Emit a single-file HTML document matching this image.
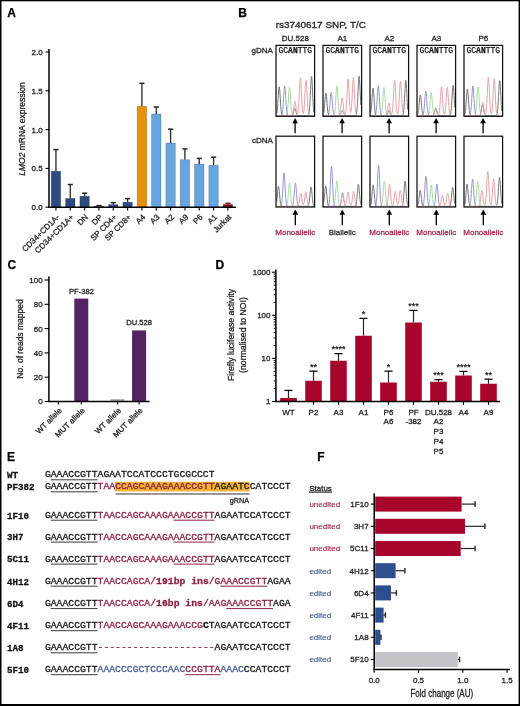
<!DOCTYPE html>
<html><head><meta charset="utf-8"><title>Figure</title>
<style>html,body{margin:0;padding:0;background:#fff;}body{width:520px;height:706px;overflow:hidden;font-family:"Liberation Sans",sans-serif;}svg{display:block;will-change:transform;}</style>
</head><body>
<svg width="520" height="706" viewBox="0 0 520 706"><text x="7.30" y="16.70" font-size="12" text-anchor="start" fill="#000" font-weight="bold" font-family="'Liberation Sans',sans-serif" stroke="#000" stroke-width="0.25"  >A</text>
<text x="238.20" y="16.80" font-size="12" text-anchor="start" fill="#000" font-weight="bold" font-family="'Liberation Sans',sans-serif" stroke="#000" stroke-width="0.25"  >B</text>
<text x="7.40" y="269.10" font-size="12" text-anchor="start" fill="#000" font-weight="bold" font-family="'Liberation Sans',sans-serif" stroke="#000" stroke-width="0.25"  >C</text>
<text x="215.60" y="269.10" font-size="12" text-anchor="start" fill="#000" font-weight="bold" font-family="'Liberation Sans',sans-serif" stroke="#000" stroke-width="0.25"  >D</text>
<text x="6.90" y="461.10" font-size="12" text-anchor="start" fill="#000" font-weight="bold" font-family="'Liberation Sans',sans-serif" stroke="#000" stroke-width="0.25"  >E</text>
<text x="317.20" y="461.10" font-size="12" text-anchor="start" fill="#000" font-weight="bold" font-family="'Liberation Sans',sans-serif" stroke="#000" stroke-width="0.25"  >F</text>
<line x1="45.50" y1="207.20" x2="49.00" y2="207.20" stroke="#000" stroke-width="1.1"/>
<text x="42.70" y="210.10" font-size="8.0" text-anchor="end" fill="#222" font-weight="normal" font-family="'Liberation Sans',sans-serif" stroke="#222" stroke-width="0.28"  >0.0</text>
<line x1="45.50" y1="168.40" x2="49.00" y2="168.40" stroke="#000" stroke-width="1.1"/>
<text x="42.70" y="171.30" font-size="8.0" text-anchor="end" fill="#222" font-weight="normal" font-family="'Liberation Sans',sans-serif" stroke="#222" stroke-width="0.28"  >0.5</text>
<line x1="45.50" y1="129.60" x2="49.00" y2="129.60" stroke="#000" stroke-width="1.1"/>
<text x="42.70" y="132.50" font-size="8.0" text-anchor="end" fill="#222" font-weight="normal" font-family="'Liberation Sans',sans-serif" stroke="#222" stroke-width="0.28"  >1.0</text>
<line x1="45.50" y1="90.80" x2="49.00" y2="90.80" stroke="#000" stroke-width="1.1"/>
<text x="42.70" y="93.70" font-size="8.0" text-anchor="end" fill="#222" font-weight="normal" font-family="'Liberation Sans',sans-serif" stroke="#222" stroke-width="0.28"  >1.5</text>
<line x1="45.50" y1="52.00" x2="49.00" y2="52.00" stroke="#000" stroke-width="1.1"/>
<text x="42.70" y="54.90" font-size="8.0" text-anchor="end" fill="#222" font-weight="normal" font-family="'Liberation Sans',sans-serif" stroke="#222" stroke-width="0.28"  >2.0</text>
<line x1="55.95" y1="149.60" x2="55.95" y2="171.20" stroke="#262626" stroke-width="1.3"/>
<line x1="53.35" y1="149.60" x2="58.55" y2="149.60" stroke="#262626" stroke-width="1.5"/>
<rect x="51.20" y="171.20" width="9.50" height="36.00" fill="#2d4b80" stroke="#000" stroke-opacity="0.22" stroke-width="0.8"/>
<line x1="55.95" y1="207.20" x2="55.95" y2="210.50" stroke="#000" stroke-width="1.1"/>
<text transform="translate(59.95,217.60) rotate(-45)" font-size="8.0" text-anchor="end" fill="#222" stroke="#222" stroke-width="0.28" font-family="'Liberation Sans',sans-serif" >CD34+CD1A-</text>
<line x1="70.28" y1="184.50" x2="70.28" y2="198.40" stroke="#262626" stroke-width="1.3"/>
<line x1="67.68" y1="184.50" x2="72.88" y2="184.50" stroke="#262626" stroke-width="1.5"/>
<rect x="65.53" y="198.40" width="9.50" height="8.80" fill="#2d4b80" stroke="#000" stroke-opacity="0.22" stroke-width="0.8"/>
<line x1="70.28" y1="207.20" x2="70.28" y2="210.50" stroke="#000" stroke-width="1.1"/>
<text transform="translate(74.28,217.60) rotate(-45)" font-size="8.0" text-anchor="end" fill="#222" stroke="#222" stroke-width="0.28" font-family="'Liberation Sans',sans-serif" >CD34+CD1A+</text>
<line x1="84.61" y1="193.20" x2="84.61" y2="196.20" stroke="#262626" stroke-width="1.3"/>
<line x1="82.01" y1="193.20" x2="87.21" y2="193.20" stroke="#262626" stroke-width="1.5"/>
<rect x="79.86" y="196.20" width="9.50" height="11.00" fill="#2d4b80" stroke="#000" stroke-opacity="0.22" stroke-width="0.8"/>
<line x1="84.61" y1="207.20" x2="84.61" y2="210.50" stroke="#000" stroke-width="1.1"/>
<text transform="translate(88.61,217.60) rotate(-45)" font-size="8.0" text-anchor="end" fill="#222" stroke="#222" stroke-width="0.28" font-family="'Liberation Sans',sans-serif" >DN</text>
<line x1="98.94" y1="205.60" x2="98.94" y2="206.20" stroke="#262626" stroke-width="1.3"/>
<line x1="96.34" y1="205.60" x2="101.54" y2="205.60" stroke="#262626" stroke-width="1.5"/>
<rect x="94.19" y="206.20" width="9.50" height="1.00" fill="#2d4b80" stroke="#000" stroke-opacity="0.22" stroke-width="0.8"/>
<line x1="98.94" y1="207.20" x2="98.94" y2="210.50" stroke="#000" stroke-width="1.1"/>
<text transform="translate(102.94,217.60) rotate(-45)" font-size="8.0" text-anchor="end" fill="#222" stroke="#222" stroke-width="0.28" font-family="'Liberation Sans',sans-serif" >DP</text>
<line x1="113.27" y1="202.60" x2="113.27" y2="204.60" stroke="#262626" stroke-width="1.3"/>
<line x1="110.67" y1="202.60" x2="115.87" y2="202.60" stroke="#262626" stroke-width="1.5"/>
<rect x="108.52" y="204.60" width="9.50" height="2.60" fill="#2d4b80" stroke="#000" stroke-opacity="0.22" stroke-width="0.8"/>
<line x1="113.27" y1="207.20" x2="113.27" y2="210.50" stroke="#000" stroke-width="1.1"/>
<text transform="translate(117.27,217.60) rotate(-45)" font-size="8.0" text-anchor="end" fill="#222" stroke="#222" stroke-width="0.28" font-family="'Liberation Sans',sans-serif" >SP CD4+</text>
<line x1="127.60" y1="198.60" x2="127.60" y2="202.20" stroke="#262626" stroke-width="1.3"/>
<line x1="125.00" y1="198.60" x2="130.20" y2="198.60" stroke="#262626" stroke-width="1.5"/>
<rect x="122.85" y="202.20" width="9.50" height="5.00" fill="#2d4b80" stroke="#000" stroke-opacity="0.22" stroke-width="0.8"/>
<line x1="127.60" y1="207.20" x2="127.60" y2="210.50" stroke="#000" stroke-width="1.1"/>
<text transform="translate(131.60,217.60) rotate(-45)" font-size="8.0" text-anchor="end" fill="#222" stroke="#222" stroke-width="0.28" font-family="'Liberation Sans',sans-serif" >SP CD8+</text>
<line x1="141.93" y1="83.30" x2="141.93" y2="106.40" stroke="#262626" stroke-width="1.3"/>
<line x1="139.33" y1="83.30" x2="144.53" y2="83.30" stroke="#262626" stroke-width="1.5"/>
<rect x="137.18" y="106.40" width="9.50" height="100.80" fill="#e6900c" stroke="#000" stroke-opacity="0.22" stroke-width="0.8"/>
<line x1="141.93" y1="207.20" x2="141.93" y2="210.50" stroke="#000" stroke-width="1.1"/>
<text transform="translate(145.93,217.60) rotate(-45)" font-size="8.0" text-anchor="end" fill="#222" stroke="#222" stroke-width="0.28" font-family="'Liberation Sans',sans-serif" >A4</text>
<line x1="156.26" y1="107.00" x2="156.26" y2="114.00" stroke="#262626" stroke-width="1.3"/>
<line x1="153.66" y1="107.00" x2="158.86" y2="107.00" stroke="#262626" stroke-width="1.5"/>
<rect x="151.51" y="114.00" width="9.50" height="93.20" fill="#68a4e0" stroke="#000" stroke-opacity="0.22" stroke-width="0.8"/>
<line x1="156.26" y1="207.20" x2="156.26" y2="210.50" stroke="#000" stroke-width="1.1"/>
<text transform="translate(160.26,217.60) rotate(-45)" font-size="8.0" text-anchor="end" fill="#222" stroke="#222" stroke-width="0.28" font-family="'Liberation Sans',sans-serif" >A3</text>
<line x1="170.59" y1="129.20" x2="170.59" y2="143.00" stroke="#262626" stroke-width="1.3"/>
<line x1="167.99" y1="129.20" x2="173.19" y2="129.20" stroke="#262626" stroke-width="1.5"/>
<rect x="165.84" y="143.00" width="9.50" height="64.20" fill="#68a4e0" stroke="#000" stroke-opacity="0.22" stroke-width="0.8"/>
<line x1="170.59" y1="207.20" x2="170.59" y2="210.50" stroke="#000" stroke-width="1.1"/>
<text transform="translate(174.59,217.60) rotate(-45)" font-size="8.0" text-anchor="end" fill="#222" stroke="#222" stroke-width="0.28" font-family="'Liberation Sans',sans-serif" >A2</text>
<line x1="184.92" y1="148.90" x2="184.92" y2="159.70" stroke="#262626" stroke-width="1.3"/>
<line x1="182.32" y1="148.90" x2="187.52" y2="148.90" stroke="#262626" stroke-width="1.5"/>
<rect x="180.17" y="159.70" width="9.50" height="47.50" fill="#68a4e0" stroke="#000" stroke-opacity="0.22" stroke-width="0.8"/>
<line x1="184.92" y1="207.20" x2="184.92" y2="210.50" stroke="#000" stroke-width="1.1"/>
<text transform="translate(188.92,217.60) rotate(-45)" font-size="8.0" text-anchor="end" fill="#222" stroke="#222" stroke-width="0.28" font-family="'Liberation Sans',sans-serif" >A9</text>
<line x1="199.25" y1="158.40" x2="199.25" y2="164.00" stroke="#262626" stroke-width="1.3"/>
<line x1="196.65" y1="158.40" x2="201.85" y2="158.40" stroke="#262626" stroke-width="1.5"/>
<rect x="194.50" y="164.00" width="9.50" height="43.20" fill="#68a4e0" stroke="#000" stroke-opacity="0.22" stroke-width="0.8"/>
<line x1="199.25" y1="207.20" x2="199.25" y2="210.50" stroke="#000" stroke-width="1.1"/>
<text transform="translate(203.25,217.60) rotate(-45)" font-size="8.0" text-anchor="end" fill="#222" stroke="#222" stroke-width="0.28" font-family="'Liberation Sans',sans-serif" >P6</text>
<line x1="213.58" y1="157.20" x2="213.58" y2="165.20" stroke="#262626" stroke-width="1.3"/>
<line x1="210.98" y1="157.20" x2="216.18" y2="157.20" stroke="#262626" stroke-width="1.5"/>
<rect x="208.83" y="165.20" width="9.50" height="42.00" fill="#68a4e0" stroke="#000" stroke-opacity="0.22" stroke-width="0.8"/>
<line x1="213.58" y1="207.20" x2="213.58" y2="210.50" stroke="#000" stroke-width="1.1"/>
<text transform="translate(217.58,217.60) rotate(-45)" font-size="8.0" text-anchor="end" fill="#222" stroke="#222" stroke-width="0.28" font-family="'Liberation Sans',sans-serif" >A1</text>
<line x1="227.91" y1="203.30" x2="227.91" y2="204.40" stroke="#7e1424" stroke-width="1.3"/>
<line x1="225.31" y1="203.30" x2="230.51" y2="203.30" stroke="#7e1424" stroke-width="1.5"/>
<rect x="223.16" y="204.40" width="9.50" height="2.80" fill="#7e1424" stroke="#000" stroke-opacity="0.22" stroke-width="0.8"/>
<line x1="227.91" y1="207.20" x2="227.91" y2="210.50" stroke="#000" stroke-width="1.1"/>
<text transform="translate(231.91,217.60) rotate(-45)" font-size="8.0" text-anchor="end" fill="#222" stroke="#222" stroke-width="0.28" font-family="'Liberation Sans',sans-serif" >Jurkat</text>
<text transform="translate(25.1,129) rotate(-90)" font-size="8.5" text-anchor="middle" fill="#222" stroke="#222" stroke-width="0.28" font-family="'Liberation Sans',sans-serif"><tspan font-style="italic">LMO2</tspan> mRNA expression</text>
<text x="275.70" y="28.00" font-size="9.4" text-anchor="start" fill="#222" font-weight="normal" font-family="'Liberation Sans',sans-serif" stroke="#222" stroke-width="0.28"  textLength="90.2" lengthAdjust="spacingAndGlyphs">rs3740617 SNP, T/C</text>
<text x="251.50" y="52.70" font-size="8" text-anchor="start" fill="#222" font-weight="normal" font-family="'Liberation Sans',sans-serif" stroke="#222" stroke-width="0.28"  >gDNA</text>
<text x="252.00" y="143.30" font-size="8" text-anchor="start" fill="#222" font-weight="normal" font-family="'Liberation Sans',sans-serif" stroke="#222" stroke-width="0.28"  >cDNA</text>
<text x="295.30" y="40.60" font-size="8" text-anchor="middle" fill="#222" font-weight="normal" font-family="'Liberation Sans',sans-serif" stroke="#222" stroke-width="0.28"  >DU.528</text>
<polyline points="276.80,115.60 277.05,115.60 277.30,115.60 277.55,115.60 277.80,115.60 278.05,115.60 278.30,115.60 278.55,115.60 278.80,115.60 279.05,115.60 279.30,115.60 279.55,115.60 279.80,115.60 280.05,115.60 280.30,115.60 280.55,115.60 280.80,115.60 281.05,115.60 281.30,115.60 281.55,115.60 281.80,115.60 282.05,115.60 282.30,115.60 282.55,115.60 282.80,115.60 283.05,115.60 283.30,115.60 283.55,115.60 283.80,115.60 284.05,115.60 284.30,115.60 284.55,115.60 284.80,115.60 285.05,115.60 285.30,115.59 285.55,115.58 285.80,115.54 286.05,115.47 286.30,115.33 286.55,115.06 286.80,114.57 287.05,113.75 287.30,112.47 287.55,110.59 287.80,108.02 288.05,104.77 288.30,100.98 288.55,96.94 288.80,93.10 289.05,89.97 289.30,88.01 289.55,87.53 289.80,88.62 290.05,91.10 290.30,94.58 290.55,98.56 290.80,102.54 291.05,106.15 291.30,109.14 291.55,111.42 291.80,113.05 292.05,114.13 292.30,114.80 292.55,115.19 292.80,115.40 293.05,115.51 293.30,115.56 293.55,115.58 293.80,115.59 294.05,115.60 294.30,115.60 294.55,115.60 294.80,115.60 295.05,115.60 295.30,115.60 295.55,115.60 295.80,115.60 296.05,115.60 296.30,115.60 296.55,115.60 296.80,115.60 297.05,115.60 297.30,115.60 297.55,115.60 297.80,115.60 298.05,115.60 298.30,115.60 298.55,115.60 298.80,115.60 299.05,115.60 299.30,115.60 299.55,115.60 299.80,115.60 300.05,115.60 300.30,115.60 300.55,115.60 300.80,115.60 301.05,115.60 301.30,115.60 301.55,115.60 301.80,115.60 302.05,115.60 302.30,115.60 302.55,115.60 302.80,115.60 303.05,115.60 303.30,115.60 303.55,115.60 303.80,115.60 304.05,115.60 304.30,115.60 304.55,115.60 304.80,115.60 305.05,115.60 305.30,115.60 305.55,115.60 305.80,115.60 306.05,115.60 306.30,115.60 306.55,115.60 306.80,115.60 307.05,115.60 307.30,115.60 307.55,115.60 307.80,115.60 308.05,115.60 308.30,115.60 308.55,115.60 308.80,115.60 309.05,115.60 309.30,115.60 309.55,115.60 309.80,115.60 310.05,115.60 310.30,115.60 310.55,115.60 310.80,115.60 311.05,115.60 311.30,115.60 311.55,115.60 311.80,115.60 312.05,115.60 312.30,115.60 312.55,115.60 312.80,115.60 313.05,115.60 313.30,115.60 313.55,115.60 313.80,115.60" fill="none" stroke="#a6dca0" stroke-width="1.0"/><polyline points="276.80,115.60 277.05,115.60 277.30,115.60 277.55,115.60 277.80,115.60 278.05,115.60 278.30,115.60 278.55,115.60 278.80,115.60 279.05,115.60 279.30,115.60 279.55,115.60 279.80,115.60 280.05,115.60 280.30,115.60 280.55,115.59 280.80,115.57 281.05,115.53 281.30,115.44 281.55,115.27 281.80,114.94 282.05,114.36 282.30,113.41 282.55,111.93 282.80,109.78 283.05,106.90 283.30,103.31 283.55,99.19 283.80,94.89 284.05,90.91 284.30,87.79 284.55,86.00 284.80,85.84 285.05,87.32 285.30,90.20 285.55,94.05 285.80,98.33 286.05,102.52 286.30,106.24 286.55,109.27 286.80,111.55 287.05,113.16 287.30,114.21 287.55,114.85 287.80,115.22 288.05,115.42 288.30,115.52 288.55,115.56 288.80,115.59 289.05,115.59 289.30,115.60 289.55,115.60 289.80,115.60 290.05,115.60 290.30,115.60 290.55,115.60 290.80,115.60 291.05,115.60 291.30,115.60 291.55,115.60 291.80,115.60 292.05,115.60 292.30,115.60 292.55,115.60 292.80,115.60 293.05,115.60 293.30,115.60 293.55,115.60 293.80,115.60 294.05,115.60 294.30,115.60 294.55,115.60 294.80,115.60 295.05,115.60 295.30,115.60 295.55,115.60 295.80,115.60 296.05,115.60 296.30,115.60 296.55,115.60 296.80,115.60 297.05,115.60 297.30,115.60 297.55,115.60 297.80,115.60 298.05,115.60 298.30,115.60 298.55,115.60 298.80,115.60 299.05,115.60 299.30,115.60 299.55,115.60 299.80,115.60 300.05,115.60 300.30,115.60 300.55,115.60 300.80,115.60 301.05,115.60 301.30,115.60 301.55,115.60 301.80,115.60 302.05,115.60 302.30,115.60 302.55,115.60 302.80,115.60 303.05,115.60 303.30,115.60 303.55,115.60 303.80,115.60 304.05,115.60 304.30,115.60 304.55,115.60 304.80,115.60 305.05,115.60 305.30,115.60 305.55,115.60 305.80,115.60 306.05,115.60 306.30,115.60 306.55,115.60 306.80,115.60 307.05,115.60 307.30,115.60 307.55,115.60 307.80,115.60 308.05,115.60 308.30,115.60 308.55,115.60 308.80,115.60 309.05,115.60 309.30,115.60 309.55,115.60 309.80,115.60 310.05,115.60 310.30,115.60 310.55,115.60 310.80,115.60 311.05,115.60 311.30,115.60 311.55,115.60 311.80,115.60 312.05,115.60 312.30,115.60 312.55,115.60 312.80,115.60 313.05,115.60 313.30,115.60 313.55,115.60 313.80,115.60" fill="none" stroke="#9393dc" stroke-width="1.0"/><polyline points="276.80,113.47 277.05,112.04 277.30,109.96 277.55,107.16 277.80,103.68 278.05,99.68 278.30,95.52 278.55,91.66 278.80,88.63 279.05,86.89 279.30,86.73 279.55,88.17 279.80,90.97 280.05,94.70 280.30,98.85 280.55,102.91 280.80,106.52 281.05,109.46 281.30,111.68 281.55,113.23 281.80,114.25 282.05,114.87 282.30,115.23 282.55,115.42 282.80,115.52 283.05,115.57 283.30,115.59 283.55,115.59 283.80,115.60 284.05,115.60 284.30,115.60 284.55,115.60 284.80,115.60 285.05,115.60 285.30,115.60 285.55,115.60 285.80,115.60 286.05,115.60 286.30,115.60 286.55,115.60 286.80,115.60 287.05,115.60 287.30,115.60 287.55,115.60 287.80,115.60 288.05,115.60 288.30,115.60 288.55,115.60 288.80,115.60 289.05,115.60 289.30,115.60 289.55,115.60 289.80,115.60 290.05,115.60 290.30,115.60 290.55,115.60 290.80,115.60 291.05,115.59 291.30,115.58 291.55,115.56 291.80,115.51 292.05,115.42 292.30,115.27 292.55,115.02 292.80,114.64 293.05,114.10 293.30,113.38 293.55,112.49 293.80,111.50 294.05,110.48 294.30,109.57 294.55,108.88 294.80,108.53 295.05,108.57 295.30,109.00 295.55,109.74 295.80,110.68 296.05,111.70 296.30,112.68 296.55,113.53 296.80,114.22 297.05,114.73 297.30,115.08 297.55,115.31 297.80,115.44 298.05,115.52 298.30,115.56 298.55,115.58 298.80,115.59 299.05,115.60 299.30,115.60 299.55,115.60 299.80,115.60 300.05,115.60 300.30,115.60 300.55,115.60 300.80,115.60 301.05,115.60 301.30,115.60 301.55,115.60 301.80,115.60 302.05,115.60 302.30,115.60 302.55,115.60 302.80,115.60 303.05,115.60 303.30,115.60 303.55,115.60 303.80,115.60 304.05,115.60 304.30,115.60 304.55,115.60 304.80,115.60 305.05,115.60 305.30,115.60 305.55,115.60 305.80,115.60 306.05,115.60 306.30,115.60 306.55,115.60 306.80,115.60 307.05,115.60 307.30,115.59 307.55,115.57 307.80,115.52 308.05,115.42 308.30,115.22 308.55,114.84 308.80,114.17 309.05,113.03 309.30,111.25 309.55,108.63 309.80,105.06 310.05,100.53 310.30,95.25 310.55,89.63 310.80,84.29 311.05,79.93 311.30,77.20 311.55,76.54 311.80,78.06 312.05,81.51 312.30,86.35 312.55,91.88 312.80,97.43 313.05,102.45 313.30,106.60 313.55,109.79 313.80,112.05" fill="none" stroke="#767676" stroke-width="1.0"/><polyline points="276.80,115.60 277.05,115.60 277.30,115.60 277.55,115.60 277.80,115.60 278.05,115.60 278.30,115.60 278.55,115.60 278.80,115.60 279.05,115.60 279.30,115.60 279.55,115.60 279.80,115.60 280.05,115.60 280.30,115.60 280.55,115.60 280.80,115.60 281.05,115.60 281.30,115.60 281.55,115.60 281.80,115.60 282.05,115.60 282.30,115.60 282.55,115.60 282.80,115.60 283.05,115.60 283.30,115.60 283.55,115.60 283.80,115.60 284.05,115.60 284.30,115.60 284.55,115.60 284.80,115.60 285.05,115.60 285.30,115.60 285.55,115.60 285.80,115.60 286.05,115.60 286.30,115.60 286.55,115.60 286.80,115.60 287.05,115.60 287.30,115.60 287.55,115.60 287.80,115.60 288.05,115.60 288.30,115.60 288.55,115.60 288.80,115.60 289.05,115.60 289.30,115.60 289.55,115.60 289.80,115.60 290.05,115.60 290.30,115.60 290.55,115.60 290.80,115.59 291.05,115.58 291.30,115.56 291.55,115.51 291.80,115.42 292.05,115.24 292.30,114.94 292.55,114.44 292.80,113.68 293.05,112.59 293.30,111.15 293.55,109.39 293.80,107.40 294.05,105.37 294.30,103.54 294.55,102.17 294.80,101.46 295.05,101.54 295.30,102.39 295.55,103.88 295.80,105.76 296.05,107.80 296.30,109.74 296.55,111.42 296.80,112.73 297.05,113.62 297.30,114.07 297.55,114.06 297.80,113.52 298.05,112.35 298.30,110.41 298.55,107.56 298.80,103.75 299.05,99.05 299.30,93.76 299.55,88.36 299.80,83.49 300.05,79.84 300.30,77.97 300.55,78.18 300.80,80.45 301.05,84.39 301.30,89.42 301.55,94.85 301.80,100.05 302.05,104.57 302.30,108.18 302.55,110.79 302.80,112.49 303.05,113.35 303.30,113.47 303.55,112.85 303.80,111.46 304.05,109.20 304.30,106.02 304.55,101.94 304.80,97.17 305.05,92.09 305.30,87.25 305.55,83.31 305.80,80.84 306.05,80.24 306.30,81.62 306.55,84.74 306.80,89.12 307.05,94.13 307.30,99.15 307.55,103.69 307.80,107.46 308.05,110.34 308.30,112.39 308.55,113.75 308.80,114.59 309.05,115.08 309.30,115.35 309.55,115.48 309.80,115.55 310.05,115.58 310.30,115.59 310.55,115.60 310.80,115.60 311.05,115.60 311.30,115.60 311.55,115.60 311.80,115.60 312.05,115.60 312.30,115.60 312.55,115.60 312.80,115.60 313.05,115.60 313.30,115.60 313.55,115.60 313.80,115.60" fill="none" stroke="#e2a4a4" stroke-width="1.0"/>
<rect x="276.00" y="45.4" width="38.60" height="70.9" fill="none" stroke="#111" stroke-width="1.25"/>
<text x="295.30" y="53.20" font-size="8.8" text-anchor="middle" fill="#111" font-weight="normal" font-family="'Liberation Mono',monospace"   textLength="33.6" lengthAdjust="spacingAndGlyphs" stroke="#111" stroke-width="0.25">GC<tspan font-weight="bold">AN</tspan>TTG</text>
<line x1="295.10" y1="121.00" x2="295.10" y2="133.20" stroke="#000" stroke-width="1.3"/>
<path d="M295.10,118.00 L297.90,123.20 L292.30,123.20 Z" fill="#000"/>
<polyline points="276.80,206.40 277.05,206.40 277.30,206.40 277.55,206.40 277.80,206.40 278.05,206.40 278.30,206.40 278.55,206.40 278.80,206.40 279.05,206.40 279.30,206.40 279.55,206.40 279.80,206.40 280.05,206.40 280.30,206.40 280.55,206.40 280.80,206.40 281.05,206.40 281.30,206.40 281.55,206.40 281.80,206.40 282.05,206.40 282.30,206.40 282.55,206.40 282.80,206.40 283.05,206.40 283.30,206.40 283.55,206.40 283.80,206.40 284.05,206.40 284.30,206.40 284.55,206.40 284.80,206.40 285.05,206.40 285.30,206.39 285.55,206.38 285.80,206.35 286.05,206.29 286.30,206.17 286.55,205.94 286.80,205.53 287.05,204.84 287.30,203.76 287.55,202.18 287.80,200.01 288.05,197.27 288.30,194.07 288.55,190.66 288.80,187.42 289.05,184.78 289.30,183.13 289.55,182.73 289.80,183.65 290.05,185.74 290.30,188.67 290.55,192.03 290.80,195.39 291.05,198.43 291.30,200.95 291.55,202.88 291.80,204.25 292.05,205.16 292.30,205.72 292.55,206.05 292.80,206.23 293.05,206.32 293.30,206.37 293.55,206.39 293.80,206.39 294.05,206.40 294.30,206.40 294.55,206.40 294.80,206.40 295.05,206.40 295.30,206.40 295.55,206.40 295.80,206.40 296.05,206.40 296.30,206.40 296.55,206.40 296.80,206.40 297.05,206.40 297.30,206.40 297.55,206.40 297.80,206.40 298.05,206.40 298.30,206.40 298.55,206.40 298.80,206.40 299.05,206.40 299.30,206.40 299.55,206.40 299.80,206.40 300.05,206.40 300.30,206.40 300.55,206.40 300.80,206.40 301.05,206.40 301.30,206.40 301.55,206.40 301.80,206.40 302.05,206.40 302.30,206.40 302.55,206.40 302.80,206.40 303.05,206.40 303.30,206.40 303.55,206.40 303.80,206.40 304.05,206.40 304.30,206.40 304.55,206.40 304.80,206.40 305.05,206.40 305.30,206.40 305.55,206.40 305.80,206.40 306.05,206.40 306.30,206.40 306.55,206.40 306.80,206.40 307.05,206.40 307.30,206.40 307.55,206.40 307.80,206.40 308.05,206.40 308.30,206.40 308.55,206.40 308.80,206.40 309.05,206.40 309.30,206.40 309.55,206.40 309.80,206.40 310.05,206.40 310.30,206.40 310.55,206.40 310.80,206.40 311.05,206.40 311.30,206.40 311.55,206.40 311.80,206.40 312.05,206.40 312.30,206.40 312.55,206.40 312.80,206.40 313.05,206.40 313.30,206.40 313.55,206.40 313.80,206.40" fill="none" stroke="#a6dca0" stroke-width="1.0"/><polyline points="276.80,206.40 277.05,206.40 277.30,206.40 277.55,206.40 277.80,206.40 278.05,206.40 278.30,206.40 278.55,206.40 278.80,206.40 279.05,206.40 279.30,206.40 279.55,206.40 279.80,206.39 280.05,206.37 280.30,206.33 280.55,206.25 280.80,206.08 281.05,205.75 281.30,205.17 281.55,204.20 281.80,202.67 282.05,200.43 282.30,197.37 282.55,193.49 282.80,188.96 283.05,184.15 283.30,179.58 283.55,175.84 283.80,173.50 284.05,172.94 284.30,174.24 284.55,177.19 284.80,181.34 285.05,186.08 285.30,190.83 285.55,195.13 285.80,198.69 286.05,201.42 286.30,203.36 286.55,204.64 286.80,205.44 287.05,205.91 287.30,206.16 287.55,206.29 287.80,206.35 288.05,206.38 288.30,206.39 288.55,206.40 288.80,206.40 289.05,206.40 289.30,206.40 289.55,206.40 289.80,206.40 290.05,206.40 290.30,206.40 290.55,206.40 290.80,206.40 291.05,206.40 291.30,206.39 291.55,206.37 291.80,206.33 292.05,206.26 292.30,206.10 292.55,205.81 292.80,205.31 293.05,204.49 293.30,203.23 293.55,201.44 293.80,199.07 294.05,196.16 294.30,192.88 294.55,189.54 294.80,186.52 295.05,184.26 295.30,183.11 295.55,183.24 295.80,184.64 296.05,187.08 296.30,190.19 296.55,193.55 296.80,196.78 297.05,199.59 297.30,201.85 297.55,203.52 297.80,204.68 298.05,205.43 298.30,205.88 298.55,206.14 298.80,206.28 299.05,206.34 299.30,206.38 299.55,206.39 299.80,206.40 300.05,206.40 300.30,206.40 300.55,206.40 300.80,206.40 301.05,206.40 301.30,206.40 301.55,206.40 301.80,206.40 302.05,206.40 302.30,206.40 302.55,206.40 302.80,206.40 303.05,206.40 303.30,206.40 303.55,206.40 303.80,206.40 304.05,206.40 304.30,206.40 304.55,206.40 304.80,206.40 305.05,206.40 305.30,206.40 305.55,206.40 305.80,206.40 306.05,206.40 306.30,206.40 306.55,206.40 306.80,206.40 307.05,206.40 307.30,206.40 307.55,206.40 307.80,206.40 308.05,206.40 308.30,206.40 308.55,206.40 308.80,206.40 309.05,206.40 309.30,206.40 309.55,206.40 309.80,206.40 310.05,206.40 310.30,206.40 310.55,206.40 310.80,206.40 311.05,206.40 311.30,206.40 311.55,206.40 311.80,206.40 312.05,206.40 312.30,206.40 312.55,206.40 312.80,206.40 313.05,206.40 313.30,206.40 313.55,206.40 313.80,206.40" fill="none" stroke="#9393dc" stroke-width="1.0"/><polyline points="276.80,201.01 277.05,198.69 277.30,195.99 277.55,193.12 277.80,190.39 278.05,188.15 278.30,186.76 278.55,186.42 278.80,187.20 279.05,188.96 279.30,191.44 279.55,194.27 279.80,197.11 280.05,199.67 280.30,201.80 280.55,203.43 280.80,204.58 281.05,205.35 281.30,205.83 281.55,206.11 281.80,206.26 282.05,206.33 282.30,206.37 282.55,206.39 282.80,206.40 283.05,206.40 283.30,206.40 283.55,206.40 283.80,206.40 284.05,206.40 284.30,206.40 284.55,206.40 284.80,206.40 285.05,206.40 285.30,206.40 285.55,206.40 285.80,206.40 286.05,206.40 286.30,206.40 286.55,206.40 286.80,206.40 287.05,206.40 287.30,206.40 287.55,206.40 287.80,206.40 288.05,206.40 288.30,206.40 288.55,206.40 288.80,206.40 289.05,206.40 289.30,206.40 289.55,206.40 289.80,206.40 290.05,206.40 290.30,206.40 290.55,206.40 290.80,206.40 291.05,206.40 291.30,206.40 291.55,206.40 291.80,206.40 292.05,206.40 292.30,206.40 292.55,206.40 292.80,206.40 293.05,206.40 293.30,206.40 293.55,206.40 293.80,206.40 294.05,206.40 294.30,206.40 294.55,206.40 294.80,206.40 295.05,206.40 295.30,206.40 295.55,206.40 295.80,206.40 296.05,206.40 296.30,206.40 296.55,206.40 296.80,206.40 297.05,206.40 297.30,206.40 297.55,206.40 297.80,206.40 298.05,206.40 298.30,206.40 298.55,206.40 298.80,206.40 299.05,206.40 299.30,206.40 299.55,206.40 299.80,206.40 300.05,206.40 300.30,206.40 300.55,206.40 300.80,206.40 301.05,206.40 301.30,206.40 301.55,206.40 301.80,206.40 302.05,206.40 302.30,206.40 302.55,206.40 302.80,206.40 303.05,206.40 303.30,206.40 303.55,206.40 303.80,206.40 304.05,206.40 304.30,206.40 304.55,206.40 304.80,206.40 305.05,206.40 305.30,206.40 305.55,206.40 305.80,206.40 306.05,206.40 306.30,206.40 306.55,206.40 306.80,206.39 307.05,206.38 307.30,206.36 307.55,206.31 307.80,206.21 308.05,206.02 308.30,205.69 308.55,205.12 308.80,204.23 309.05,202.92 309.30,201.14 309.55,198.89 309.80,196.25 310.05,193.45 310.30,190.79 310.55,188.61 310.80,187.25 311.05,186.92 311.30,187.68 311.55,189.40 311.80,191.81 312.05,194.57 312.30,197.34 312.55,199.84 312.80,201.91 313.05,203.50 313.30,204.63 313.55,205.38 313.80,205.84" fill="none" stroke="#767676" stroke-width="1.0"/><polyline points="276.80,206.40 277.05,206.40 277.30,206.40 277.55,206.40 277.80,206.40 278.05,206.40 278.30,206.40 278.55,206.40 278.80,206.40 279.05,206.40 279.30,206.40 279.55,206.40 279.80,206.40 280.05,206.40 280.30,206.40 280.55,206.40 280.80,206.40 281.05,206.40 281.30,206.40 281.55,206.40 281.80,206.40 282.05,206.40 282.30,206.40 282.55,206.40 282.80,206.40 283.05,206.40 283.30,206.40 283.55,206.40 283.80,206.40 284.05,206.40 284.30,206.40 284.55,206.40 284.80,206.40 285.05,206.40 285.30,206.40 285.55,206.40 285.80,206.40 286.05,206.40 286.30,206.40 286.55,206.40 286.80,206.40 287.05,206.40 287.30,206.40 287.55,206.40 287.80,206.40 288.05,206.40 288.30,206.40 288.55,206.40 288.80,206.40 289.05,206.40 289.30,206.40 289.55,206.40 289.80,206.40 290.05,206.40 290.30,206.40 290.55,206.40 290.80,206.40 291.05,206.40 291.30,206.40 291.55,206.40 291.80,206.40 292.05,206.40 292.30,206.40 292.55,206.40 292.80,206.40 293.05,206.40 293.30,206.40 293.55,206.40 293.80,206.40 294.05,206.40 294.30,206.40 294.55,206.40 294.80,206.40 295.05,206.40 295.30,206.40 295.55,206.40 295.80,206.40 296.05,206.40 296.30,206.40 296.55,206.40 296.80,206.39 297.05,206.38 297.30,206.35 297.55,206.29 297.80,206.18 298.05,205.97 298.30,205.62 298.55,205.06 298.80,204.23 299.05,203.08 299.30,201.61 299.55,199.85 299.80,197.95 300.05,196.09 300.30,194.53 300.55,193.47 300.80,193.10 301.05,193.47 301.30,194.52 301.55,196.09 301.80,197.94 302.05,199.83 302.30,201.55 302.55,202.96 302.80,203.98 303.05,204.58 303.30,204.76 303.55,204.49 303.80,203.78 304.05,202.62 304.30,201.05 304.55,199.14 304.80,197.05 305.05,195.01 305.30,193.27 305.55,192.11 305.80,191.70 306.05,192.11 306.30,193.28 306.55,195.01 306.80,197.06 307.05,199.16 307.30,201.10 307.55,202.73 307.80,204.00 308.05,204.92 308.30,205.54 308.55,205.92 308.80,206.15 309.05,206.28 309.30,206.34 309.55,206.38 309.80,206.39 310.05,206.40 310.30,206.40 310.55,206.40 310.80,206.40 311.05,206.40 311.30,206.40 311.55,206.40 311.80,206.40 312.05,206.40 312.30,206.40 312.55,206.40 312.80,206.40 313.05,206.40 313.30,206.40 313.55,206.40 313.80,206.40" fill="none" stroke="#e2a4a4" stroke-width="1.0"/>
<rect x="276.00" y="136.2" width="38.60" height="70.8" fill="none" stroke="#111" stroke-width="1.25"/>
<line x1="295.30" y1="212.60" x2="295.30" y2="225.20" stroke="#000" stroke-width="1.3"/>
<path d="M295.30,209.60 L298.10,214.80 L292.50,214.80 Z" fill="#000"/>
<text x="295.30" y="235.20" font-size="8" text-anchor="middle" fill="#a8284f" font-weight="normal" font-family="'Liberation Sans',sans-serif" stroke="#a8284f" stroke-width="0.28"  >Monoallelic</text>
<text x="342.30" y="40.60" font-size="8" text-anchor="middle" fill="#222" font-weight="normal" font-family="'Liberation Sans',sans-serif" stroke="#222" stroke-width="0.28"  >A1</text>
<polyline points="323.80,115.60 324.05,115.60 324.30,115.60 324.55,115.60 324.80,115.60 325.05,115.60 325.30,115.60 325.55,115.60 325.80,115.60 326.05,115.60 326.30,115.60 326.55,115.60 326.80,115.60 327.05,115.60 327.30,115.60 327.55,115.60 327.80,115.60 328.05,115.60 328.30,115.60 328.55,115.60 328.80,115.60 329.05,115.60 329.30,115.60 329.55,115.60 329.80,115.60 330.05,115.60 330.30,115.60 330.55,115.60 330.80,115.60 331.05,115.60 331.30,115.60 331.55,115.60 331.80,115.60 332.05,115.60 332.30,115.60 332.55,115.59 332.80,115.59 333.05,115.56 333.30,115.52 333.55,115.42 333.80,115.22 334.05,114.86 334.30,114.22 334.55,113.18 334.80,111.59 335.05,109.33 335.30,106.33 335.55,102.65 335.80,98.50 336.05,94.27 336.30,90.46 336.55,87.60 336.80,86.13 337.05,86.30 337.30,88.07 337.55,91.16 337.80,95.10 338.05,99.35 338.30,103.43 338.55,106.99 338.80,109.84 339.05,111.96 339.30,113.43 339.55,114.37 339.80,114.95 340.05,115.27 340.30,115.44 340.55,115.53 340.80,115.57 341.05,115.59 341.30,115.60 341.55,115.60 341.80,115.60 342.05,115.60 342.30,115.60 342.55,115.60 342.80,115.60 343.05,115.60 343.30,115.60 343.55,115.60 343.80,115.60 344.05,115.60 344.30,115.60 344.55,115.60 344.80,115.60 345.05,115.60 345.30,115.60 345.55,115.60 345.80,115.60 346.05,115.60 346.30,115.60 346.55,115.60 346.80,115.60 347.05,115.60 347.30,115.60 347.55,115.60 347.80,115.60 348.05,115.60 348.30,115.60 348.55,115.60 348.80,115.60 349.05,115.60 349.30,115.60 349.55,115.60 349.80,115.60 350.05,115.60 350.30,115.60 350.55,115.60 350.80,115.60 351.05,115.60 351.30,115.60 351.55,115.60 351.80,115.60 352.05,115.60 352.30,115.60 352.55,115.60 352.80,115.60 353.05,115.60 353.30,115.60 353.55,115.60 353.80,115.60 354.05,115.60 354.30,115.60 354.55,115.60 354.80,115.60 355.05,115.60 355.30,115.60 355.55,115.60 355.80,115.60 356.05,115.60 356.30,115.60 356.55,115.60 356.80,115.60 357.05,115.60 357.30,115.60 357.55,115.60 357.80,115.60 358.05,115.60 358.30,115.60 358.55,115.60 358.80,115.60 359.05,115.60 359.30,115.60 359.55,115.60 359.80,115.60 360.05,115.60 360.30,115.60 360.55,115.60 360.80,115.60" fill="none" stroke="#a6dca0" stroke-width="1.0"/><polyline points="323.80,115.60 324.05,115.60 324.30,115.60 324.55,115.60 324.80,115.60 325.05,115.60 325.30,115.60 325.55,115.60 325.80,115.60 326.05,115.60 326.30,115.60 326.55,115.60 326.80,115.60 327.05,115.59 327.30,115.58 327.55,115.54 327.80,115.48 328.05,115.34 328.30,115.09 328.55,114.64 328.80,113.89 329.05,112.74 329.30,111.07 329.55,108.82 329.80,106.02 330.05,102.81 330.30,99.46 330.55,96.36 330.80,93.93 331.05,92.54 331.30,92.41 331.55,93.56 331.80,95.81 332.05,98.81 332.30,102.14 332.55,105.40 332.80,108.30 333.05,110.67 333.30,112.45 333.55,113.70 333.80,114.51 334.05,115.01 334.30,115.30 334.55,115.46 334.80,115.53 335.05,115.57 335.30,115.59 335.55,115.60 335.80,115.60 336.05,115.60 336.30,115.60 336.55,115.60 336.80,115.60 337.05,115.60 337.30,115.60 337.55,115.60 337.80,115.60 338.05,115.60 338.30,115.59 338.55,115.59 338.80,115.57 339.05,115.54 339.30,115.48 339.55,115.38 339.80,115.21 340.05,114.95 340.30,114.57 340.55,114.06 340.80,113.42 341.05,112.69 341.30,111.92 341.55,111.22 341.80,110.66 342.05,110.34 342.30,110.31 342.55,110.58 342.80,111.09 343.05,111.77 343.30,112.53 343.55,113.28 343.80,113.94 344.05,114.48 344.30,114.88 344.55,115.17 344.80,115.35 345.05,115.47 345.30,115.53 345.55,115.57 345.80,115.59 346.05,115.59 346.30,115.60 346.55,115.60 346.80,115.60 347.05,115.60 347.30,115.60 347.55,115.60 347.80,115.60 348.05,115.60 348.30,115.60 348.55,115.60 348.80,115.60 349.05,115.60 349.30,115.60 349.55,115.60 349.80,115.60 350.05,115.60 350.30,115.60 350.55,115.60 350.80,115.60 351.05,115.60 351.30,115.60 351.55,115.60 351.80,115.60 352.05,115.60 352.30,115.60 352.55,115.60 352.80,115.60 353.05,115.60 353.30,115.60 353.55,115.60 353.80,115.60 354.05,115.60 354.30,115.60 354.55,115.60 354.80,115.60 355.05,115.60 355.30,115.60 355.55,115.60 355.80,115.60 356.05,115.60 356.30,115.60 356.55,115.60 356.80,115.60 357.05,115.60 357.30,115.60 357.55,115.60 357.80,115.60 358.05,115.60 358.30,115.60 358.55,115.60 358.80,115.60 359.05,115.60 359.30,115.60 359.55,115.60 359.80,115.60 360.05,115.60 360.30,115.60 360.55,115.60 360.80,115.60" fill="none" stroke="#9393dc" stroke-width="1.0"/><polyline points="323.80,112.54 324.05,110.81 324.30,108.52 324.55,105.71 324.80,102.54 325.05,99.31 325.30,96.40 325.55,94.22 325.80,93.10 326.05,93.23 326.30,94.58 326.55,96.94 326.80,99.95 327.05,103.19 327.30,106.31 327.55,109.03 327.80,111.20 328.05,112.82 328.30,113.94 328.55,114.66 328.80,115.10 329.05,115.35 329.30,115.48 329.55,115.55 329.80,115.58 330.05,115.59 330.30,115.60 330.55,115.60 330.80,115.60 331.05,115.60 331.30,115.60 331.55,115.60 331.80,115.60 332.05,115.60 332.30,115.60 332.55,115.60 332.80,115.60 333.05,115.60 333.30,115.60 333.55,115.60 333.80,115.60 334.05,115.60 334.30,115.60 334.55,115.60 334.80,115.60 335.05,115.60 335.30,115.60 335.55,115.60 335.80,115.60 336.05,115.60 336.30,115.60 336.55,115.60 336.80,115.60 337.05,115.60 337.30,115.60 337.55,115.60 337.80,115.60 338.05,115.60 338.30,115.60 338.55,115.60 338.80,115.60 339.05,115.60 339.30,115.60 339.55,115.60 339.80,115.60 340.05,115.60 340.30,115.60 340.55,115.60 340.80,115.60 341.05,115.60 341.30,115.60 341.55,115.60 341.80,115.60 342.05,115.60 342.30,115.60 342.55,115.60 342.80,115.60 343.05,115.60 343.30,115.60 343.55,115.60 343.80,115.60 344.05,115.60 344.30,115.60 344.55,115.60 344.80,115.60 345.05,115.60 345.30,115.60 345.55,115.60 345.80,115.60 346.05,115.60 346.30,115.60 346.55,115.60 346.80,115.60 347.05,115.60 347.30,115.60 347.55,115.60 347.80,115.60 348.05,115.60 348.30,115.60 348.55,115.60 348.80,115.60 349.05,115.60 349.30,115.60 349.55,115.60 349.80,115.60 350.05,115.60 350.30,115.60 350.55,115.60 350.80,115.60 351.05,115.60 351.30,115.60 351.55,115.60 351.80,115.60 352.05,115.60 352.30,115.60 352.55,115.60 352.80,115.60 353.05,115.60 353.30,115.60 353.55,115.60 353.80,115.60 354.05,115.60 354.30,115.60 354.55,115.60 354.80,115.59 355.05,115.58 355.30,115.54 355.55,115.47 355.80,115.32 356.05,115.02 356.30,114.47 356.55,113.53 356.80,112.00 357.05,109.71 357.30,106.49 357.55,102.28 357.80,97.20 358.05,91.58 358.30,85.98 358.55,81.08 358.80,77.58 359.05,76.04 359.30,76.71 359.55,79.47 359.80,83.89 360.05,89.30 360.30,94.99 360.55,100.34 360.80,104.92" fill="none" stroke="#767676" stroke-width="1.0"/><polyline points="323.80,115.60 324.05,115.60 324.30,115.60 324.55,115.60 324.80,115.60 325.05,115.60 325.30,115.60 325.55,115.60 325.80,115.60 326.05,115.60 326.30,115.60 326.55,115.60 326.80,115.60 327.05,115.60 327.30,115.60 327.55,115.60 327.80,115.60 328.05,115.60 328.30,115.60 328.55,115.60 328.80,115.60 329.05,115.60 329.30,115.60 329.55,115.60 329.80,115.60 330.05,115.60 330.30,115.60 330.55,115.60 330.80,115.60 331.05,115.60 331.30,115.60 331.55,115.60 331.80,115.60 332.05,115.60 332.30,115.60 332.55,115.60 332.80,115.60 333.05,115.60 333.30,115.60 333.55,115.60 333.80,115.60 334.05,115.60 334.30,115.60 334.55,115.60 334.80,115.60 335.05,115.60 335.30,115.60 335.55,115.60 335.80,115.60 336.05,115.60 336.30,115.60 336.55,115.60 336.80,115.60 337.05,115.60 337.30,115.60 337.55,115.60 337.80,115.60 338.05,115.59 338.30,115.58 338.55,115.56 338.80,115.51 339.05,115.40 339.30,115.21 339.55,114.87 339.80,114.30 340.05,113.42 340.30,112.16 340.55,110.45 340.80,108.32 341.05,105.88 341.30,103.34 341.55,100.99 341.80,99.14 342.05,98.08 342.30,97.98 342.55,98.86 342.80,100.57 343.05,102.84 343.30,105.37 343.55,107.85 343.80,110.05 344.05,111.83 344.30,113.15 344.55,114.03 344.80,114.51 345.05,114.61 345.30,114.32 345.55,113.56 345.80,112.21 346.05,110.11 346.30,107.12 346.55,103.22 346.80,98.50 347.05,93.28 347.30,88.07 347.55,83.52 347.80,80.27 348.05,78.84 348.30,79.46 348.55,82.03 348.80,86.13 349.05,91.15 349.30,96.43 349.55,101.37 349.80,105.57 350.05,108.81 350.30,111.01 350.55,112.22 350.80,112.47 351.05,111.78 351.30,110.09 351.55,107.36 351.80,103.59 352.05,98.90 352.30,93.58 352.55,88.14 352.80,83.24 353.05,79.56 353.30,77.67 353.55,77.89 353.80,80.17 354.05,84.14 354.30,89.21 354.55,94.69 354.80,99.94 355.05,104.52 355.30,108.19 355.55,110.92 355.80,112.80 356.05,114.02 356.30,114.76 356.55,115.18 356.80,115.40 357.05,115.51 357.30,115.56 357.55,115.58 357.80,115.59 358.05,115.60 358.30,115.60 358.55,115.60 358.80,115.60 359.05,115.60 359.30,115.60 359.55,115.60 359.80,115.60 360.05,115.60 360.30,115.60 360.55,115.60 360.80,115.60" fill="none" stroke="#e2a4a4" stroke-width="1.0"/>
<rect x="323.00" y="45.4" width="38.60" height="70.9" fill="none" stroke="#111" stroke-width="1.25"/>
<text x="342.30" y="53.20" font-size="8.8" text-anchor="middle" fill="#111" font-weight="normal" font-family="'Liberation Mono',monospace"   textLength="33.6" lengthAdjust="spacingAndGlyphs" stroke="#111" stroke-width="0.25">GC<tspan font-weight="bold">AN</tspan>TTG</text>
<line x1="342.10" y1="121.00" x2="342.10" y2="133.20" stroke="#000" stroke-width="1.3"/>
<path d="M342.10,118.00 L344.90,123.20 L339.30,123.20 Z" fill="#000"/>
<polyline points="323.80,206.40 324.05,206.40 324.30,206.40 324.55,206.40 324.80,206.40 325.05,206.40 325.30,206.40 325.55,206.40 325.80,206.40 326.05,206.40 326.30,206.40 326.55,206.40 326.80,206.40 327.05,206.40 327.30,206.40 327.55,206.40 327.80,206.40 328.05,206.40 328.30,206.40 328.55,206.40 328.80,206.40 329.05,206.40 329.30,206.40 329.55,206.40 329.80,206.40 330.05,206.40 330.30,206.40 330.55,206.40 330.80,206.40 331.05,206.40 331.30,206.40 331.55,206.40 331.80,206.40 332.05,206.40 332.30,206.40 332.55,206.39 332.80,206.38 333.05,206.36 333.30,206.30 333.55,206.19 333.80,205.97 334.05,205.58 334.30,204.91 334.55,203.84 334.80,202.26 335.05,200.07 335.30,197.24 335.55,193.89 335.80,190.26 336.05,186.72 336.30,183.72 336.55,181.71 336.80,181.00 337.05,181.71 337.30,183.72 337.55,186.72 337.80,190.26 338.05,193.89 338.30,197.24 338.55,200.07 338.80,202.26 339.05,203.84 339.30,204.91 339.55,205.58 339.80,205.97 340.05,206.19 340.30,206.30 340.55,206.36 340.80,206.38 341.05,206.39 341.30,206.40 341.55,206.40 341.80,206.40 342.05,206.40 342.30,206.40 342.55,206.40 342.80,206.40 343.05,206.40 343.30,206.40 343.55,206.40 343.80,206.40 344.05,206.40 344.30,206.40 344.55,206.40 344.80,206.40 345.05,206.40 345.30,206.40 345.55,206.40 345.80,206.40 346.05,206.40 346.30,206.40 346.55,206.40 346.80,206.40 347.05,206.40 347.30,206.40 347.55,206.40 347.80,206.40 348.05,206.40 348.30,206.40 348.55,206.40 348.80,206.40 349.05,206.40 349.30,206.40 349.55,206.40 349.80,206.40 350.05,206.40 350.30,206.40 350.55,206.40 350.80,206.40 351.05,206.40 351.30,206.40 351.55,206.40 351.80,206.40 352.05,206.40 352.30,206.40 352.55,206.40 352.80,206.40 353.05,206.40 353.30,206.40 353.55,206.40 353.80,206.40 354.05,206.40 354.30,206.40 354.55,206.40 354.80,206.40 355.05,206.40 355.30,206.40 355.55,206.40 355.80,206.40 356.05,206.40 356.30,206.40 356.55,206.40 356.80,206.40 357.05,206.40 357.30,206.40 357.55,206.40 357.80,206.40 358.05,206.40 358.30,206.40 358.55,206.40 358.80,206.40 359.05,206.40 359.30,206.40 359.55,206.40 359.80,206.40 360.05,206.40 360.30,206.40 360.55,206.40 360.80,206.40" fill="none" stroke="#a6dca0" stroke-width="1.0"/><polyline points="323.80,206.40 324.05,206.40 324.30,206.40 324.55,206.40 324.80,206.40 325.05,206.40 325.30,206.40 325.55,206.40 325.80,206.40 326.05,206.40 326.30,206.40 326.55,206.40 326.80,206.40 327.05,206.39 327.30,206.39 327.55,206.37 327.80,206.32 328.05,206.22 328.30,206.01 328.55,205.62 328.80,204.93 329.05,203.76 329.30,201.92 329.55,199.23 329.80,195.56 330.05,190.91 330.30,185.48 330.55,179.70 330.80,174.21 331.05,169.73 331.30,166.92 331.55,166.25 331.80,167.81 332.05,171.35 332.30,176.33 332.55,182.02 332.80,187.72 333.05,192.88 333.30,197.15 333.55,200.42 333.80,202.75 334.05,204.29 334.30,205.25 334.55,205.81 334.80,206.11 335.05,206.27 335.30,206.34 335.55,206.38 335.80,206.39 336.05,206.40 336.30,206.40 336.55,206.40 336.80,206.40 337.05,206.40 337.30,206.40 337.55,206.40 337.80,206.40 338.05,206.40 338.30,206.40 338.55,206.39 338.80,206.38 339.05,206.35 339.30,206.30 339.55,206.20 339.80,206.01 340.05,205.68 340.30,205.16 340.55,204.37 340.80,203.25 341.05,201.80 341.30,200.04 341.55,198.10 341.80,196.17 342.05,194.47 342.30,193.27 342.55,192.74 342.80,192.97 343.05,193.92 343.30,195.45 343.55,197.31 343.80,199.28 344.05,201.13 344.30,202.71 344.55,203.96 344.80,204.88 345.05,205.50 345.30,205.90 345.55,206.14 345.80,206.27 346.05,206.34 346.30,206.37 346.55,206.39 346.80,206.40 347.05,206.40 347.30,206.40 347.55,206.40 347.80,206.40 348.05,206.40 348.30,206.40 348.55,206.40 348.80,206.40 349.05,206.40 349.30,206.40 349.55,206.40 349.80,206.40 350.05,206.40 350.30,206.40 350.55,206.40 350.80,206.40 351.05,206.40 351.30,206.40 351.55,206.40 351.80,206.40 352.05,206.40 352.30,206.40 352.55,206.40 352.80,206.40 353.05,206.40 353.30,206.40 353.55,206.40 353.80,206.40 354.05,206.40 354.30,206.40 354.55,206.40 354.80,206.40 355.05,206.40 355.30,206.40 355.55,206.40 355.80,206.40 356.05,206.40 356.30,206.40 356.55,206.40 356.80,206.40 357.05,206.40 357.30,206.40 357.55,206.40 357.80,206.40 358.05,206.40 358.30,206.40 358.55,206.40 358.80,206.40 359.05,206.40 359.30,206.40 359.55,206.40 359.80,206.40 360.05,206.40 360.30,206.40 360.55,206.40 360.80,206.40" fill="none" stroke="#9393dc" stroke-width="1.0"/><polyline points="323.80,202.39 324.05,200.41 324.30,197.93 324.55,195.09 324.80,192.13 325.05,189.39 325.30,187.24 325.55,186.01 325.80,185.89 326.05,186.91 326.30,188.90 326.55,191.56 326.80,194.50 327.05,197.39 327.30,199.95 327.55,202.04 327.80,203.61 328.05,204.72 328.30,205.44 328.55,205.88 328.80,206.14 329.05,206.27 329.30,206.34 329.55,206.38 329.80,206.39 330.05,206.40 330.30,206.40 330.55,206.40 330.80,206.40 331.05,206.40 331.30,206.40 331.55,206.40 331.80,206.40 332.05,206.40 332.30,206.40 332.55,206.40 332.80,206.40 333.05,206.40 333.30,206.40 333.55,206.40 333.80,206.40 334.05,206.40 334.30,206.40 334.55,206.40 334.80,206.40 335.05,206.40 335.30,206.40 335.55,206.40 335.80,206.40 336.05,206.40 336.30,206.40 336.55,206.40 336.80,206.40 337.05,206.40 337.30,206.40 337.55,206.40 337.80,206.40 338.05,206.40 338.30,206.40 338.55,206.40 338.80,206.40 339.05,206.40 339.30,206.40 339.55,206.40 339.80,206.40 340.05,206.40 340.30,206.40 340.55,206.40 340.80,206.40 341.05,206.40 341.30,206.40 341.55,206.40 341.80,206.40 342.05,206.40 342.30,206.40 342.55,206.40 342.80,206.40 343.05,206.40 343.30,206.40 343.55,206.40 343.80,206.40 344.05,206.40 344.30,206.40 344.55,206.40 344.80,206.40 345.05,206.40 345.30,206.40 345.55,206.40 345.80,206.40 346.05,206.40 346.30,206.40 346.55,206.40 346.80,206.40 347.05,206.40 347.30,206.40 347.55,206.40 347.80,206.40 348.05,206.40 348.30,206.40 348.55,206.40 348.80,206.40 349.05,206.40 349.30,206.40 349.55,206.40 349.80,206.40 350.05,206.40 350.30,206.40 350.55,206.40 350.80,206.40 351.05,206.40 351.30,206.40 351.55,206.40 351.80,206.40 352.05,206.40 352.30,206.40 352.55,206.40 352.80,206.40 353.05,206.40 353.30,206.40 353.55,206.40 353.80,206.40 354.05,206.40 354.30,206.39 354.55,206.37 354.80,206.34 355.05,206.26 355.30,206.12 355.55,205.84 355.80,205.37 356.05,204.59 356.30,203.40 356.55,201.70 356.80,199.45 357.05,196.69 357.30,193.58 357.55,190.40 357.80,187.54 358.05,185.40 358.30,184.30 358.55,184.43 358.80,185.75 359.05,188.07 359.30,191.02 359.55,194.21 359.80,197.27 360.05,199.94 360.30,202.08 360.55,203.67 360.80,204.77" fill="none" stroke="#767676" stroke-width="1.0"/><polyline points="323.80,206.40 324.05,206.40 324.30,206.40 324.55,206.40 324.80,206.40 325.05,206.40 325.30,206.40 325.55,206.40 325.80,206.40 326.05,206.40 326.30,206.40 326.55,206.40 326.80,206.40 327.05,206.40 327.30,206.40 327.55,206.40 327.80,206.40 328.05,206.40 328.30,206.40 328.55,206.40 328.80,206.40 329.05,206.40 329.30,206.40 329.55,206.40 329.80,206.40 330.05,206.40 330.30,206.40 330.55,206.40 330.80,206.40 331.05,206.40 331.30,206.40 331.55,206.40 331.80,206.40 332.05,206.40 332.30,206.40 332.55,206.40 332.80,206.40 333.05,206.40 333.30,206.40 333.55,206.40 333.80,206.40 334.05,206.40 334.30,206.40 334.55,206.40 334.80,206.40 335.05,206.40 335.30,206.40 335.55,206.40 335.80,206.40 336.05,206.40 336.30,206.40 336.55,206.40 336.80,206.40 337.05,206.40 337.30,206.40 337.55,206.40 337.80,206.40 338.05,206.40 338.30,206.40 338.55,206.39 338.80,206.38 339.05,206.35 339.30,206.30 339.55,206.20 339.80,206.01 340.05,205.68 340.30,205.16 340.55,204.37 340.80,203.25 341.05,201.80 341.30,200.04 341.55,198.10 341.80,196.17 342.05,194.47 342.30,193.27 342.55,192.74 342.80,192.97 343.05,193.92 343.30,195.45 343.55,197.31 343.80,199.28 344.05,201.12 344.30,202.68 344.55,203.90 344.80,204.74 345.05,205.22 345.30,205.37 345.55,205.18 345.80,204.65 346.05,203.75 346.30,202.46 346.55,200.80 346.80,198.85 347.05,196.77 347.30,194.79 347.55,193.17 347.80,192.16 348.05,191.92 348.30,192.48 348.55,193.76 348.80,195.55 349.05,197.60 349.30,199.66 349.55,201.51 349.80,203.04 350.05,204.19 350.30,204.97 350.55,205.42 350.80,205.55 351.05,205.39 351.30,204.92 351.55,204.09 351.80,202.88 352.05,201.28 352.30,199.33 352.55,197.18 352.80,195.03 353.05,193.15 353.30,191.81 353.55,191.22 353.80,191.47 354.05,192.53 354.30,194.23 354.55,196.31 354.80,198.49 355.05,200.54 355.30,202.30 355.55,203.69 355.80,204.71 356.05,205.40 356.30,205.84 356.55,206.11 356.80,206.25 357.05,206.33 357.30,206.37 357.55,206.39 357.80,206.39 358.05,206.40 358.30,206.40 358.55,206.40 358.80,206.40 359.05,206.40 359.30,206.40 359.55,206.40 359.80,206.40 360.05,206.40 360.30,206.40 360.55,206.40 360.80,206.40" fill="none" stroke="#e2a4a4" stroke-width="1.0"/>
<rect x="323.00" y="136.2" width="38.60" height="70.8" fill="none" stroke="#111" stroke-width="1.25"/>
<line x1="342.30" y1="212.60" x2="342.30" y2="225.20" stroke="#000" stroke-width="1.3"/>
<path d="M342.30,209.60 L345.10,214.80 L339.50,214.80 Z" fill="#000"/>
<text x="342.30" y="235.20" font-size="8" text-anchor="middle" fill="#333" font-weight="normal" font-family="'Liberation Sans',sans-serif" stroke="#333" stroke-width="0.28"  >Biallelic</text>
<text x="389.30" y="40.60" font-size="8" text-anchor="middle" fill="#222" font-weight="normal" font-family="'Liberation Sans',sans-serif" stroke="#222" stroke-width="0.28"  >A2</text>
<polyline points="370.80,115.60 371.05,115.60 371.30,115.60 371.55,115.60 371.80,115.60 372.05,115.60 372.30,115.60 372.55,115.60 372.80,115.60 373.05,115.60 373.30,115.60 373.55,115.60 373.80,115.60 374.05,115.60 374.30,115.60 374.55,115.60 374.80,115.60 375.05,115.60 375.30,115.60 375.55,115.60 375.80,115.60 376.05,115.60 376.30,115.60 376.55,115.60 376.80,115.60 377.05,115.60 377.30,115.60 377.55,115.60 377.80,115.60 378.05,115.60 378.30,115.60 378.55,115.60 378.80,115.60 379.05,115.60 379.30,115.60 379.55,115.60 379.80,115.59 380.05,115.58 380.30,115.54 380.55,115.47 380.80,115.33 381.05,115.05 381.30,114.56 381.55,113.74 381.80,112.45 382.05,110.56 382.30,107.97 382.55,104.69 382.80,100.87 383.05,96.81 383.30,92.94 383.55,89.78 383.80,87.81 384.05,87.33 384.30,88.43 384.55,90.93 384.80,94.43 385.05,98.44 385.30,102.45 385.55,106.08 385.80,109.09 386.05,111.39 386.30,113.03 386.55,114.12 386.80,114.79 387.05,115.18 387.30,115.40 387.55,115.51 387.80,115.56 388.05,115.58 388.30,115.59 388.55,115.60 388.80,115.60 389.05,115.60 389.30,115.60 389.55,115.60 389.80,115.60 390.05,115.60 390.30,115.60 390.55,115.60 390.80,115.60 391.05,115.60 391.30,115.60 391.55,115.60 391.80,115.60 392.05,115.60 392.30,115.60 392.55,115.60 392.80,115.60 393.05,115.60 393.30,115.60 393.55,115.60 393.80,115.60 394.05,115.60 394.30,115.60 394.55,115.60 394.80,115.60 395.05,115.60 395.30,115.60 395.55,115.60 395.80,115.60 396.05,115.60 396.30,115.60 396.55,115.60 396.80,115.60 397.05,115.60 397.30,115.60 397.55,115.60 397.80,115.60 398.05,115.60 398.30,115.60 398.55,115.60 398.80,115.60 399.05,115.60 399.30,115.60 399.55,115.60 399.80,115.60 400.05,115.60 400.30,115.60 400.55,115.60 400.80,115.60 401.05,115.60 401.30,115.60 401.55,115.60 401.80,115.60 402.05,115.60 402.30,115.60 402.55,115.60 402.80,115.60 403.05,115.60 403.30,115.60 403.55,115.60 403.80,115.60 404.05,115.60 404.30,115.60 404.55,115.60 404.80,115.60 405.05,115.60 405.30,115.60 405.55,115.60 405.80,115.60 406.05,115.60 406.30,115.60 406.55,115.60 406.80,115.60 407.05,115.60 407.30,115.60 407.55,115.60 407.80,115.60" fill="none" stroke="#a6dca0" stroke-width="1.0"/><polyline points="370.80,115.60 371.05,115.60 371.30,115.60 371.55,115.60 371.80,115.60 372.05,115.60 372.30,115.60 372.55,115.60 372.80,115.60 373.05,115.60 373.30,115.60 373.55,115.60 373.80,115.60 374.05,115.59 374.30,115.58 374.55,115.55 374.80,115.48 375.05,115.35 375.30,115.09 375.55,114.63 375.80,113.84 376.05,112.58 376.30,110.71 376.55,108.12 376.80,104.79 377.05,100.83 377.30,96.54 377.55,92.35 377.80,88.82 378.05,86.44 378.30,85.60 378.55,86.44 378.80,88.82 379.05,92.35 379.30,96.54 379.55,100.83 379.80,104.79 380.05,108.12 380.30,110.71 380.55,112.58 380.80,113.84 381.05,114.63 381.30,115.09 381.55,115.35 381.80,115.48 382.05,115.55 382.30,115.58 382.55,115.59 382.80,115.60 383.05,115.60 383.30,115.60 383.55,115.60 383.80,115.60 384.05,115.60 384.30,115.60 384.55,115.60 384.80,115.60 385.05,115.60 385.30,115.60 385.55,115.60 385.80,115.60 386.05,115.60 386.30,115.60 386.55,115.60 386.80,115.60 387.05,115.60 387.30,115.60 387.55,115.60 387.80,115.60 388.05,115.60 388.30,115.60 388.55,115.60 388.80,115.60 389.05,115.60 389.30,115.60 389.55,115.60 389.80,115.60 390.05,115.60 390.30,115.60 390.55,115.60 390.80,115.60 391.05,115.60 391.30,115.60 391.55,115.60 391.80,115.60 392.05,115.60 392.30,115.60 392.55,115.60 392.80,115.60 393.05,115.60 393.30,115.60 393.55,115.60 393.80,115.60 394.05,115.60 394.30,115.60 394.55,115.60 394.80,115.60 395.05,115.60 395.30,115.60 395.55,115.60 395.80,115.60 396.05,115.60 396.30,115.60 396.55,115.60 396.80,115.60 397.05,115.60 397.30,115.60 397.55,115.60 397.80,115.60 398.05,115.60 398.30,115.60 398.55,115.60 398.80,115.60 399.05,115.60 399.30,115.60 399.55,115.60 399.80,115.60 400.05,115.60 400.30,115.60 400.55,115.60 400.80,115.60 401.05,115.60 401.30,115.60 401.55,115.60 401.80,115.60 402.05,115.60 402.30,115.60 402.55,115.60 402.80,115.60 403.05,115.60 403.30,115.60 403.55,115.60 403.80,115.60 404.05,115.60 404.30,115.60 404.55,115.60 404.80,115.60 405.05,115.60 405.30,115.60 405.55,115.60 405.80,115.60 406.05,115.60 406.30,115.60 406.55,115.60 406.80,115.60 407.05,115.60 407.30,115.60 407.55,115.60 407.80,115.60" fill="none" stroke="#9393dc" stroke-width="1.0"/><polyline points="370.80,112.54 371.05,110.70 371.30,108.18 371.55,105.00 371.80,101.29 372.05,97.34 372.30,93.58 372.55,90.51 372.80,88.59 373.05,88.13 373.30,89.20 373.55,91.63 373.80,95.03 374.05,98.92 374.30,102.82 374.55,106.35 374.80,109.27 375.05,111.51 375.30,113.10 375.55,114.16 375.80,114.81 376.05,115.20 376.30,115.40 376.55,115.51 376.80,115.56 377.05,115.58 377.30,115.59 377.55,115.60 377.80,115.60 378.05,115.60 378.30,115.60 378.55,115.60 378.80,115.60 379.05,115.60 379.30,115.60 379.55,115.60 379.80,115.60 380.05,115.60 380.30,115.60 380.55,115.60 380.80,115.60 381.05,115.60 381.30,115.60 381.55,115.60 381.80,115.60 382.05,115.60 382.30,115.60 382.55,115.60 382.80,115.60 383.05,115.60 383.30,115.60 383.55,115.60 383.80,115.60 384.05,115.60 384.30,115.60 384.55,115.60 384.80,115.60 385.05,115.59 385.30,115.59 385.55,115.57 385.80,115.53 386.05,115.47 386.30,115.36 386.55,115.18 386.80,114.91 387.05,114.52 387.30,114.01 387.55,113.38 387.80,112.67 388.05,111.94 388.30,111.29 388.55,110.79 388.80,110.54 389.05,110.57 389.30,110.88 389.55,111.41 389.80,112.08 390.05,112.81 390.30,113.51 390.55,114.12 390.80,114.61 391.05,114.98 391.30,115.23 391.55,115.39 391.80,115.49 392.05,115.54 392.30,115.57 392.55,115.59 392.80,115.59 393.05,115.60 393.30,115.60 393.55,115.60 393.80,115.60 394.05,115.60 394.30,115.60 394.55,115.60 394.80,115.60 395.05,115.60 395.30,115.60 395.55,115.60 395.80,115.60 396.05,115.60 396.30,115.60 396.55,115.60 396.80,115.60 397.05,115.60 397.30,115.60 397.55,115.60 397.80,115.60 398.05,115.60 398.30,115.60 398.55,115.60 398.80,115.60 399.05,115.60 399.30,115.60 399.55,115.60 399.80,115.60 400.05,115.60 400.30,115.60 400.55,115.60 400.80,115.60 401.05,115.60 401.30,115.60 401.55,115.59 401.80,115.58 402.05,115.54 402.30,115.46 402.55,115.31 402.80,115.00 403.05,114.46 403.30,113.53 403.55,112.05 403.80,109.85 404.05,106.80 404.30,102.88 404.55,98.22 404.80,93.17 405.05,88.25 405.30,84.08 405.55,81.29 405.80,80.30 406.05,81.29 406.30,84.08 406.55,88.25 406.80,93.17 407.05,98.22 407.30,102.88 407.55,106.80 407.80,109.85" fill="none" stroke="#767676" stroke-width="1.0"/><polyline points="370.80,115.60 371.05,115.60 371.30,115.60 371.55,115.60 371.80,115.60 372.05,115.60 372.30,115.60 372.55,115.60 372.80,115.60 373.05,115.60 373.30,115.60 373.55,115.60 373.80,115.60 374.05,115.60 374.30,115.60 374.55,115.60 374.80,115.60 375.05,115.60 375.30,115.60 375.55,115.60 375.80,115.60 376.05,115.60 376.30,115.60 376.55,115.60 376.80,115.60 377.05,115.60 377.30,115.60 377.55,115.60 377.80,115.60 378.05,115.60 378.30,115.60 378.55,115.60 378.80,115.60 379.05,115.60 379.30,115.60 379.55,115.60 379.80,115.60 380.05,115.60 380.30,115.60 380.55,115.60 380.80,115.60 381.05,115.60 381.30,115.60 381.55,115.60 381.80,115.60 382.05,115.60 382.30,115.60 382.55,115.60 382.80,115.60 383.05,115.60 383.30,115.60 383.55,115.60 383.80,115.60 384.05,115.60 384.30,115.60 384.55,115.60 384.80,115.59 385.05,115.58 385.30,115.56 385.55,115.52 385.80,115.44 386.05,115.28 386.30,115.01 386.55,114.56 386.80,113.88 387.05,112.91 387.30,111.62 387.55,110.04 387.80,108.26 388.05,106.45 388.30,104.81 388.55,103.59 388.80,102.96 389.05,103.03 389.30,103.79 389.55,105.11 389.80,106.80 390.05,108.63 390.30,110.37 390.55,111.88 390.80,113.08 391.05,113.92 391.30,114.42 391.55,114.55 391.80,114.31 392.05,113.61 392.30,112.33 392.55,110.32 392.80,107.47 393.05,103.72 393.30,99.20 393.55,94.19 393.80,89.19 394.05,84.83 394.30,81.71 394.55,80.34 394.80,80.93 395.05,83.40 395.30,87.33 395.55,92.16 395.80,97.23 396.05,101.99 396.30,106.07 396.55,109.28 396.80,111.60 397.05,113.12 397.30,113.98 397.55,114.26 397.80,114.00 398.05,113.19 398.30,111.71 398.55,109.46 398.80,106.34 399.05,102.38 399.30,97.75 399.55,92.82 399.80,88.13 400.05,84.31 400.30,81.92 400.55,81.34 400.80,82.67 401.05,85.70 401.30,89.94 401.55,94.80 401.80,99.66 402.05,104.06 402.30,107.71 402.55,110.50 402.80,112.49 403.05,113.80 403.30,114.62 403.55,115.10 403.80,115.35 404.05,115.49 404.30,115.55 404.55,115.58 404.80,115.59 405.05,115.60 405.30,115.60 405.55,115.60 405.80,115.60 406.05,115.60 406.30,115.60 406.55,115.60 406.80,115.60 407.05,115.60 407.30,115.60 407.55,115.60 407.80,115.60" fill="none" stroke="#e2a4a4" stroke-width="1.0"/>
<rect x="370.00" y="45.4" width="38.60" height="70.9" fill="none" stroke="#111" stroke-width="1.25"/>
<text x="389.30" y="53.20" font-size="8.8" text-anchor="middle" fill="#111" font-weight="normal" font-family="'Liberation Mono',monospace"   textLength="33.6" lengthAdjust="spacingAndGlyphs" stroke="#111" stroke-width="0.25">GC<tspan font-weight="bold">AN</tspan>TTG</text>
<line x1="389.10" y1="121.00" x2="389.10" y2="133.20" stroke="#000" stroke-width="1.3"/>
<path d="M389.10,118.00 L391.90,123.20 L386.30,123.20 Z" fill="#000"/>
<polyline points="370.80,206.40 371.05,206.40 371.30,206.40 371.55,206.40 371.80,206.40 372.05,206.40 372.30,206.40 372.55,206.40 372.80,206.40 373.05,206.40 373.30,206.40 373.55,206.40 373.80,206.40 374.05,206.40 374.30,206.40 374.55,206.40 374.80,206.40 375.05,206.40 375.30,206.40 375.55,206.40 375.80,206.40 376.05,206.40 376.30,206.40 376.55,206.40 376.80,206.40 377.05,206.40 377.30,206.40 377.55,206.40 377.80,206.40 378.05,206.40 378.30,206.40 378.55,206.40 378.80,206.40 379.05,206.40 379.30,206.40 379.55,206.40 379.80,206.40 380.05,206.39 380.30,206.38 380.55,206.36 380.80,206.30 381.05,206.19 381.30,205.97 381.55,205.58 381.80,204.91 382.05,203.84 382.30,202.26 382.55,200.07 382.80,197.24 383.05,193.89 383.30,190.26 383.55,186.72 383.80,183.72 384.05,181.71 384.30,181.00 384.55,181.71 384.80,183.72 385.05,186.72 385.30,190.26 385.55,193.89 385.80,197.24 386.05,200.07 386.30,202.26 386.55,203.84 386.80,204.91 387.05,205.58 387.30,205.97 387.55,206.19 387.80,206.30 388.05,206.36 388.30,206.38 388.55,206.39 388.80,206.40 389.05,206.40 389.30,206.40 389.55,206.40 389.80,206.40 390.05,206.40 390.30,206.40 390.55,206.40 390.80,206.40 391.05,206.40 391.30,206.40 391.55,206.40 391.80,206.40 392.05,206.40 392.30,206.40 392.55,206.40 392.80,206.40 393.05,206.40 393.30,206.40 393.55,206.40 393.80,206.40 394.05,206.40 394.30,206.40 394.55,206.40 394.80,206.40 395.05,206.40 395.30,206.40 395.55,206.40 395.80,206.40 396.05,206.40 396.30,206.40 396.55,206.40 396.80,206.40 397.05,206.40 397.30,206.40 397.55,206.40 397.80,206.40 398.05,206.40 398.30,206.40 398.55,206.40 398.80,206.40 399.05,206.40 399.30,206.40 399.55,206.40 399.80,206.40 400.05,206.40 400.30,206.40 400.55,206.40 400.80,206.40 401.05,206.40 401.30,206.40 401.55,206.40 401.80,206.40 402.05,206.40 402.30,206.40 402.55,206.40 402.80,206.40 403.05,206.40 403.30,206.40 403.55,206.40 403.80,206.40 404.05,206.40 404.30,206.40 404.55,206.40 404.80,206.40 405.05,206.40 405.30,206.40 405.55,206.40 405.80,206.40 406.05,206.40 406.30,206.40 406.55,206.40 406.80,206.40 407.05,206.40 407.30,206.40 407.55,206.40 407.80,206.40" fill="none" stroke="#a6dca0" stroke-width="1.0"/><polyline points="370.80,206.40 371.05,206.40 371.30,206.40 371.55,206.40 371.80,206.40 372.05,206.40 372.30,206.40 372.55,206.40 372.80,206.40 373.05,206.40 373.30,206.40 373.55,206.40 373.80,206.40 374.05,206.40 374.30,206.39 374.55,206.38 374.80,206.34 375.05,206.26 375.30,206.10 375.55,205.79 375.80,205.22 376.05,204.24 376.30,202.66 376.55,200.27 376.80,196.92 377.05,192.54 377.30,187.26 377.55,181.41 377.80,175.58 378.05,170.48 378.30,166.85 378.55,165.25 378.80,165.94 379.05,168.82 379.30,173.41 379.55,179.04 379.80,184.96 380.05,190.52 380.30,195.29 380.55,199.06 380.80,201.81 381.05,203.69 381.30,204.89 381.55,205.60 381.80,206.00 382.05,206.21 382.30,206.32 382.55,206.37 382.80,206.39 383.05,206.39 383.30,206.40 383.55,206.40 383.80,206.40 384.05,206.40 384.30,206.40 384.55,206.40 384.80,206.40 385.05,206.40 385.30,206.40 385.55,206.40 385.80,206.40 386.05,206.40 386.30,206.40 386.55,206.40 386.80,206.40 387.05,206.40 387.30,206.40 387.55,206.40 387.80,206.40 388.05,206.40 388.30,206.40 388.55,206.40 388.80,206.40 389.05,206.40 389.30,206.40 389.55,206.40 389.80,206.40 390.05,206.40 390.30,206.40 390.55,206.40 390.80,206.40 391.05,206.40 391.30,206.40 391.55,206.40 391.80,206.40 392.05,206.40 392.30,206.40 392.55,206.40 392.80,206.40 393.05,206.40 393.30,206.40 393.55,206.40 393.80,206.40 394.05,206.40 394.30,206.40 394.55,206.40 394.80,206.40 395.05,206.40 395.30,206.40 395.55,206.40 395.80,206.40 396.05,206.40 396.30,206.40 396.55,206.40 396.80,206.40 397.05,206.40 397.30,206.40 397.55,206.40 397.80,206.40 398.05,206.40 398.30,206.40 398.55,206.40 398.80,206.40 399.05,206.40 399.30,206.40 399.55,206.40 399.80,206.40 400.05,206.40 400.30,206.40 400.55,206.40 400.80,206.40 401.05,206.40 401.30,206.40 401.55,206.40 401.80,206.40 402.05,206.40 402.30,206.40 402.55,206.40 402.80,206.40 403.05,206.40 403.30,206.40 403.55,206.40 403.80,206.40 404.05,206.40 404.30,206.40 404.55,206.40 404.80,206.40 405.05,206.40 405.30,206.40 405.55,206.40 405.80,206.40 406.05,206.40 406.30,206.40 406.55,206.40 406.80,206.40 407.05,206.40 407.30,206.40 407.55,206.40 407.80,206.40" fill="none" stroke="#9393dc" stroke-width="1.0"/><polyline points="370.80,204.82 371.05,203.75 371.30,202.20 371.55,200.12 371.80,197.52 372.05,194.54 372.30,191.44 372.55,188.57 372.80,186.31 373.05,185.02 373.30,184.90 373.55,185.97 373.80,188.05 374.05,190.83 374.30,193.92 374.55,196.95 374.80,199.64 375.05,201.83 375.30,203.48 375.55,204.63 375.80,205.39 376.05,205.86 376.30,206.12 376.55,206.27 376.80,206.34 377.05,206.37 377.30,206.39 377.55,206.40 377.80,206.40 378.05,206.40 378.30,206.40 378.55,206.40 378.80,206.40 379.05,206.40 379.30,206.40 379.55,206.40 379.80,206.40 380.05,206.40 380.30,206.40 380.55,206.40 380.80,206.40 381.05,206.40 381.30,206.40 381.55,206.40 381.80,206.40 382.05,206.40 382.30,206.40 382.55,206.40 382.80,206.40 383.05,206.40 383.30,206.40 383.55,206.40 383.80,206.40 384.05,206.40 384.30,206.40 384.55,206.40 384.80,206.40 385.05,206.40 385.30,206.40 385.55,206.40 385.80,206.40 386.05,206.40 386.30,206.40 386.55,206.40 386.80,206.40 387.05,206.40 387.30,206.40 387.55,206.40 387.80,206.40 388.05,206.40 388.30,206.40 388.55,206.40 388.80,206.40 389.05,206.40 389.30,206.40 389.55,206.40 389.80,206.40 390.05,206.40 390.30,206.40 390.55,206.40 390.80,206.40 391.05,206.40 391.30,206.40 391.55,206.40 391.80,206.40 392.05,206.40 392.30,206.40 392.55,206.40 392.80,206.40 393.05,206.40 393.30,206.40 393.55,206.40 393.80,206.40 394.05,206.40 394.30,206.40 394.55,206.40 394.80,206.40 395.05,206.40 395.30,206.40 395.55,206.40 395.80,206.40 396.05,206.40 396.30,206.40 396.55,206.40 396.80,206.40 397.05,206.40 397.30,206.40 397.55,206.40 397.80,206.40 398.05,206.40 398.30,206.40 398.55,206.40 398.80,206.40 399.05,206.40 399.30,206.40 399.55,206.40 399.80,206.40 400.05,206.40 400.30,206.40 400.55,206.40 400.80,206.39 401.05,206.39 401.30,206.36 401.55,206.32 401.80,206.22 402.05,206.03 402.30,205.67 402.55,205.07 402.80,204.09 403.05,202.62 403.30,200.56 403.55,197.86 403.80,194.60 404.05,190.99 404.30,187.40 404.55,184.26 404.80,182.02 405.05,181.03 405.30,181.46 405.55,183.23 405.80,186.06 406.05,189.53 406.30,193.18 406.55,196.61 406.80,199.55 407.05,201.87 407.30,203.57 407.55,204.73 407.80,205.47" fill="none" stroke="#767676" stroke-width="1.0"/><polyline points="370.80,206.40 371.05,206.40 371.30,206.40 371.55,206.40 371.80,206.40 372.05,206.40 372.30,206.40 372.55,206.40 372.80,206.40 373.05,206.40 373.30,206.40 373.55,206.40 373.80,206.40 374.05,206.40 374.30,206.40 374.55,206.40 374.80,206.40 375.05,206.40 375.30,206.40 375.55,206.40 375.80,206.40 376.05,206.40 376.30,206.40 376.55,206.40 376.80,206.40 377.05,206.40 377.30,206.40 377.55,206.40 377.80,206.40 378.05,206.40 378.30,206.40 378.55,206.40 378.80,206.40 379.05,206.40 379.30,206.40 379.55,206.40 379.80,206.40 380.05,206.40 380.30,206.40 380.55,206.40 380.80,206.40 381.05,206.40 381.30,206.40 381.55,206.40 381.80,206.40 382.05,206.40 382.30,206.40 382.55,206.40 382.80,206.40 383.05,206.40 383.30,206.40 383.55,206.40 383.80,206.40 384.05,206.40 384.30,206.40 384.55,206.40 384.80,206.40 385.05,206.40 385.30,206.39 385.55,206.38 385.80,206.36 386.05,206.30 386.30,206.19 386.55,205.97 386.80,205.59 387.05,204.94 387.30,203.93 387.55,202.44 387.80,200.41 388.05,197.84 388.30,194.85 388.55,191.66 388.80,188.62 389.05,186.15 389.30,184.60 389.55,184.23 389.80,185.09 390.05,187.05 390.30,189.79 390.55,192.93 390.80,196.08 391.05,198.93 391.30,201.28 391.55,203.07 391.80,204.33 392.05,205.11 392.30,205.51 392.55,205.58 392.80,205.35 393.05,204.80 393.30,203.89 393.55,202.60 393.80,200.92 394.05,198.91 394.30,196.74 394.55,194.62 394.80,192.83 395.05,191.62 395.30,191.20 395.55,191.62 395.80,192.83 396.05,194.62 396.30,196.73 396.55,198.89 396.80,200.86 397.05,202.47 397.30,203.65 397.55,204.34 397.80,204.54 398.05,204.26 398.30,203.47 398.55,202.18 398.80,200.43 399.05,198.30 399.30,195.97 399.55,193.69 399.80,191.76 400.05,190.46 400.30,190.00 400.55,190.46 400.80,191.76 401.05,193.69 401.30,195.98 401.55,198.33 401.80,200.49 402.05,202.31 402.30,203.73 402.55,204.75 402.80,205.44 403.05,205.87 403.30,206.12 403.55,206.26 403.80,206.34 404.05,206.37 404.30,206.39 404.55,206.40 404.80,206.40 405.05,206.40 405.30,206.40 405.55,206.40 405.80,206.40 406.05,206.40 406.30,206.40 406.55,206.40 406.80,206.40 407.05,206.40 407.30,206.40 407.55,206.40 407.80,206.40" fill="none" stroke="#e2a4a4" stroke-width="1.0"/>
<rect x="370.00" y="136.2" width="38.60" height="70.8" fill="none" stroke="#111" stroke-width="1.25"/>
<line x1="389.30" y1="212.60" x2="389.30" y2="225.20" stroke="#000" stroke-width="1.3"/>
<path d="M389.30,209.60 L392.10,214.80 L386.50,214.80 Z" fill="#000"/>
<text x="389.30" y="235.20" font-size="8" text-anchor="middle" fill="#a8284f" font-weight="normal" font-family="'Liberation Sans',sans-serif" stroke="#a8284f" stroke-width="0.28"  >Monoallelic</text>
<text x="436.30" y="40.60" font-size="8" text-anchor="middle" fill="#222" font-weight="normal" font-family="'Liberation Sans',sans-serif" stroke="#222" stroke-width="0.28"  >A3</text>
<polyline points="417.80,115.60 418.05,115.60 418.30,115.60 418.55,115.60 418.80,115.60 419.05,115.60 419.30,115.60 419.55,115.60 419.80,115.60 420.05,115.60 420.30,115.60 420.55,115.60 420.80,115.60 421.05,115.60 421.30,115.60 421.55,115.60 421.80,115.60 422.05,115.60 422.30,115.60 422.55,115.60 422.80,115.60 423.05,115.60 423.30,115.60 423.55,115.60 423.80,115.60 424.05,115.60 424.30,115.60 424.55,115.60 424.80,115.60 425.05,115.60 425.30,115.60 425.55,115.60 425.80,115.60 426.05,115.60 426.30,115.60 426.55,115.60 426.80,115.60 427.05,115.59 427.30,115.58 427.55,115.55 427.80,115.48 428.05,115.35 428.30,115.09 428.55,114.65 428.80,113.92 429.05,112.79 429.30,111.15 429.55,108.94 429.80,106.19 430.05,103.03 430.30,99.74 430.55,96.69 430.80,94.30 431.05,92.93 431.30,92.80 431.55,93.94 431.80,96.15 432.05,99.10 432.30,102.37 432.55,105.58 432.80,108.43 433.05,110.75 433.30,112.50 433.55,113.73 433.80,114.53 434.05,115.02 434.30,115.31 434.55,115.46 434.80,115.54 435.05,115.57 435.30,115.59 435.55,115.60 435.80,115.60 436.05,115.60 436.30,115.60 436.55,115.60 436.80,115.60 437.05,115.60 437.30,115.60 437.55,115.60 437.80,115.60 438.05,115.60 438.30,115.60 438.55,115.60 438.80,115.60 439.05,115.60 439.30,115.60 439.55,115.60 439.80,115.60 440.05,115.60 440.30,115.60 440.55,115.60 440.80,115.60 441.05,115.60 441.30,115.60 441.55,115.60 441.80,115.60 442.05,115.60 442.30,115.60 442.55,115.60 442.80,115.60 443.05,115.60 443.30,115.60 443.55,115.60 443.80,115.60 444.05,115.60 444.30,115.60 444.55,115.60 444.80,115.60 445.05,115.60 445.30,115.60 445.55,115.60 445.80,115.60 446.05,115.60 446.30,115.60 446.55,115.60 446.80,115.60 447.05,115.60 447.30,115.60 447.55,115.60 447.80,115.60 448.05,115.60 448.30,115.60 448.55,115.60 448.80,115.60 449.05,115.60 449.30,115.60 449.55,115.60 449.80,115.60 450.05,115.60 450.30,115.60 450.55,115.60 450.80,115.60 451.05,115.60 451.30,115.60 451.55,115.60 451.80,115.60 452.05,115.60 452.30,115.60 452.55,115.60 452.80,115.60 453.05,115.60 453.30,115.60 453.55,115.60 453.80,115.60 454.05,115.60 454.30,115.60 454.55,115.60 454.80,115.60" fill="none" stroke="#a6dca0" stroke-width="1.0"/><polyline points="417.80,115.60 418.05,115.60 418.30,115.60 418.55,115.60 418.80,115.60 419.05,115.60 419.30,115.60 419.55,115.60 419.80,115.60 420.05,115.60 420.30,115.60 420.55,115.60 420.80,115.60 421.05,115.60 421.30,115.60 421.55,115.59 421.80,115.58 422.05,115.56 422.30,115.51 422.55,115.40 422.80,115.19 423.05,114.81 423.30,114.16 423.55,113.13 423.80,111.61 424.05,109.49 424.30,106.77 424.55,103.54 424.80,100.03 425.05,96.62 425.30,93.73 425.55,91.78 425.80,91.10 426.05,91.78 426.30,93.73 426.55,96.62 426.80,100.03 427.05,103.54 427.30,106.77 427.55,109.49 427.80,111.61 428.05,113.13 428.30,114.16 428.55,114.81 428.80,115.19 429.05,115.40 429.30,115.51 429.55,115.56 429.80,115.58 430.05,115.59 430.30,115.60 430.55,115.60 430.80,115.60 431.05,115.60 431.30,115.60 431.55,115.60 431.80,115.60 432.05,115.60 432.30,115.60 432.55,115.60 432.80,115.60 433.05,115.60 433.30,115.60 433.55,115.60 433.80,115.60 434.05,115.60 434.30,115.60 434.55,115.60 434.80,115.60 435.05,115.60 435.30,115.60 435.55,115.60 435.80,115.60 436.05,115.60 436.30,115.60 436.55,115.60 436.80,115.60 437.05,115.60 437.30,115.60 437.55,115.60 437.80,115.60 438.05,115.60 438.30,115.60 438.55,115.60 438.80,115.60 439.05,115.60 439.30,115.60 439.55,115.60 439.80,115.60 440.05,115.60 440.30,115.60 440.55,115.60 440.80,115.60 441.05,115.60 441.30,115.60 441.55,115.60 441.80,115.60 442.05,115.60 442.30,115.60 442.55,115.60 442.80,115.60 443.05,115.60 443.30,115.60 443.55,115.60 443.80,115.60 444.05,115.60 444.30,115.60 444.55,115.60 444.80,115.60 445.05,115.60 445.30,115.60 445.55,115.60 445.80,115.60 446.05,115.60 446.30,115.60 446.55,115.60 446.80,115.60 447.05,115.60 447.30,115.60 447.55,115.60 447.80,115.60 448.05,115.60 448.30,115.60 448.55,115.60 448.80,115.60 449.05,115.60 449.30,115.60 449.55,115.60 449.80,115.60 450.05,115.60 450.30,115.60 450.55,115.60 450.80,115.60 451.05,115.60 451.30,115.60 451.55,115.60 451.80,115.60 452.05,115.60 452.30,115.60 452.55,115.60 452.80,115.60 453.05,115.60 453.30,115.60 453.55,115.60 453.80,115.60 454.05,115.60 454.30,115.60 454.55,115.60 454.80,115.60" fill="none" stroke="#9393dc" stroke-width="1.0"/><polyline points="417.80,114.39 418.05,113.53 418.30,112.24 418.55,110.46 418.80,108.17 419.05,105.46 419.30,102.51 419.55,99.64 419.80,97.21 420.05,95.58 420.30,95.00 420.55,95.58 420.80,97.21 421.05,99.64 421.30,102.51 421.55,105.46 421.80,108.17 422.05,110.46 422.30,112.24 422.55,113.53 422.80,114.39 423.05,114.93 423.30,115.25 423.55,115.43 423.80,115.52 424.05,115.56 424.30,115.59 424.55,115.59 424.80,115.60 425.05,115.60 425.30,115.60 425.55,115.60 425.80,115.60 426.05,115.60 426.30,115.60 426.55,115.60 426.80,115.60 427.05,115.60 427.30,115.60 427.55,115.60 427.80,115.60 428.05,115.60 428.30,115.60 428.55,115.60 428.80,115.60 429.05,115.60 429.30,115.60 429.55,115.60 429.80,115.60 430.05,115.60 430.30,115.60 430.55,115.60 430.80,115.60 431.05,115.60 431.30,115.60 431.55,115.60 431.80,115.59 432.05,115.59 432.30,115.57 432.55,115.54 432.80,115.47 433.05,115.36 433.30,115.16 433.55,114.84 433.80,114.37 434.05,113.71 434.30,112.88 434.55,111.88 434.80,110.80 435.05,109.74 435.30,108.85 435.55,108.25 435.80,108.04 436.05,108.25 436.30,108.85 436.55,109.74 436.80,110.80 437.05,111.88 437.30,112.88 437.55,113.71 437.80,114.37 438.05,114.84 438.30,115.16 438.55,115.36 438.80,115.47 439.05,115.54 439.30,115.57 439.55,115.59 439.80,115.59 440.05,115.60 440.30,115.60 440.55,115.60 440.80,115.60 441.05,115.60 441.30,115.60 441.55,115.60 441.80,115.60 442.05,115.60 442.30,115.60 442.55,115.60 442.80,115.60 443.05,115.60 443.30,115.60 443.55,115.60 443.80,115.60 444.05,115.60 444.30,115.60 444.55,115.60 444.80,115.60 445.05,115.60 445.30,115.60 445.55,115.60 445.80,115.60 446.05,115.60 446.30,115.60 446.55,115.60 446.80,115.60 447.05,115.60 447.30,115.60 447.55,115.60 447.80,115.60 448.05,115.60 448.30,115.60 448.55,115.60 448.80,115.59 449.05,115.58 449.30,115.56 449.55,115.50 449.80,115.38 450.05,115.15 450.30,114.73 450.55,114.01 450.80,112.85 451.05,111.09 451.30,108.63 451.55,105.41 451.80,101.52 452.05,97.22 452.30,92.93 452.55,89.18 452.80,86.51 453.05,85.33 453.30,85.84 453.55,87.96 453.80,91.34 454.05,95.48 454.30,99.83 454.55,103.92 454.80,107.43" fill="none" stroke="#767676" stroke-width="1.0"/><polyline points="417.80,115.60 418.05,115.60 418.30,115.60 418.55,115.60 418.80,115.60 419.05,115.60 419.30,115.60 419.55,115.60 419.80,115.60 420.05,115.60 420.30,115.60 420.55,115.60 420.80,115.60 421.05,115.60 421.30,115.60 421.55,115.60 421.80,115.60 422.05,115.60 422.30,115.60 422.55,115.60 422.80,115.60 423.05,115.60 423.30,115.60 423.55,115.60 423.80,115.60 424.05,115.60 424.30,115.60 424.55,115.60 424.80,115.60 425.05,115.60 425.30,115.60 425.55,115.60 425.80,115.60 426.05,115.60 426.30,115.60 426.55,115.60 426.80,115.60 427.05,115.60 427.30,115.60 427.55,115.60 427.80,115.60 428.05,115.60 428.30,115.60 428.55,115.60 428.80,115.60 429.05,115.60 429.30,115.60 429.55,115.60 429.80,115.60 430.05,115.60 430.30,115.60 430.55,115.60 430.80,115.60 431.05,115.60 431.30,115.60 431.55,115.60 431.80,115.60 432.05,115.59 432.30,115.57 432.55,115.54 432.80,115.49 433.05,115.38 433.30,115.21 433.55,114.92 433.80,114.50 434.05,113.92 434.30,113.18 434.55,112.29 434.80,111.33 435.05,110.39 435.30,109.60 435.55,109.07 435.80,108.88 436.05,109.07 436.30,109.60 436.55,110.39 436.80,111.33 437.05,112.29 437.30,113.17 437.55,113.90 437.80,114.45 438.05,114.79 438.30,114.93 438.55,114.83 438.80,114.43 439.05,113.66 439.30,112.38 439.55,110.47 439.80,107.86 440.05,104.54 440.30,100.66 440.55,96.54 440.80,92.62 441.05,89.42 441.30,87.42 441.55,86.93 441.80,88.05 442.05,90.58 442.30,94.13 442.55,98.19 442.80,102.26 443.05,105.94 443.30,108.98 443.55,111.28 443.80,112.89 444.05,113.86 444.30,114.30 444.55,114.26 444.80,113.74 445.05,112.67 445.30,110.96 445.55,108.55 445.80,105.43 446.05,101.71 446.30,97.68 446.55,93.75 446.80,90.42 447.05,88.19 447.30,87.40 447.55,88.19 447.80,90.42 448.05,93.75 448.30,97.68 448.55,101.72 448.80,105.44 449.05,108.57 449.30,111.00 449.55,112.76 449.80,113.94 450.05,114.69 450.30,115.12 450.55,115.37 450.80,115.49 451.05,115.55 451.30,115.58 451.55,115.59 451.80,115.60 452.05,115.60 452.30,115.60 452.55,115.60 452.80,115.60 453.05,115.60 453.30,115.60 453.55,115.60 453.80,115.60 454.05,115.60 454.30,115.60 454.55,115.60 454.80,115.60" fill="none" stroke="#e2a4a4" stroke-width="1.0"/>
<rect x="417.00" y="45.4" width="38.60" height="70.9" fill="none" stroke="#111" stroke-width="1.25"/>
<text x="436.30" y="53.20" font-size="8.8" text-anchor="middle" fill="#111" font-weight="normal" font-family="'Liberation Mono',monospace"   textLength="33.6" lengthAdjust="spacingAndGlyphs" stroke="#111" stroke-width="0.25">GC<tspan font-weight="bold">AN</tspan>TTG</text>
<line x1="436.10" y1="121.00" x2="436.10" y2="133.20" stroke="#000" stroke-width="1.3"/>
<path d="M436.10,118.00 L438.90,123.20 L433.30,123.20 Z" fill="#000"/>
<polyline points="417.80,206.40 418.05,206.40 418.30,206.40 418.55,206.40 418.80,206.40 419.05,206.40 419.30,206.40 419.55,206.40 419.80,206.40 420.05,206.40 420.30,206.40 420.55,206.40 420.80,206.40 421.05,206.40 421.30,206.40 421.55,206.40 421.80,206.40 422.05,206.40 422.30,206.40 422.55,206.40 422.80,206.40 423.05,206.40 423.30,206.40 423.55,206.40 423.80,206.40 424.05,206.40 424.30,206.40 424.55,206.40 424.80,206.40 425.05,206.40 425.30,206.40 425.55,206.40 425.80,206.40 426.05,206.40 426.30,206.40 426.55,206.40 426.80,206.40 427.05,206.39 427.30,206.38 427.55,206.35 427.80,206.29 428.05,206.16 428.30,205.93 428.55,205.51 428.80,204.83 429.05,203.77 429.30,202.24 429.55,200.17 429.80,197.60 430.05,194.65 430.30,191.58 430.55,188.73 430.80,186.50 431.05,185.22 431.30,185.10 431.55,186.16 431.80,188.22 432.05,190.98 432.30,194.04 432.55,197.04 432.80,199.70 433.05,201.87 433.30,203.50 433.55,204.65 433.80,205.40 434.05,205.86 434.30,206.13 434.55,206.27 434.80,206.34 435.05,206.37 435.30,206.39 435.55,206.40 435.80,206.40 436.05,206.40 436.30,206.40 436.55,206.40 436.80,206.40 437.05,206.40 437.30,206.40 437.55,206.40 437.80,206.40 438.05,206.40 438.30,206.40 438.55,206.40 438.80,206.40 439.05,206.40 439.30,206.40 439.55,206.40 439.80,206.40 440.05,206.40 440.30,206.40 440.55,206.40 440.80,206.40 441.05,206.40 441.30,206.40 441.55,206.40 441.80,206.40 442.05,206.40 442.30,206.40 442.55,206.40 442.80,206.40 443.05,206.40 443.30,206.40 443.55,206.40 443.80,206.40 444.05,206.40 444.30,206.40 444.55,206.40 444.80,206.40 445.05,206.40 445.30,206.40 445.55,206.40 445.80,206.40 446.05,206.40 446.30,206.40 446.55,206.40 446.80,206.40 447.05,206.40 447.30,206.40 447.55,206.40 447.80,206.40 448.05,206.40 448.30,206.40 448.55,206.40 448.80,206.40 449.05,206.40 449.30,206.40 449.55,206.40 449.80,206.40 450.05,206.40 450.30,206.40 450.55,206.40 450.80,206.40 451.05,206.40 451.30,206.40 451.55,206.40 451.80,206.40 452.05,206.40 452.30,206.40 452.55,206.40 452.80,206.40 453.05,206.40 453.30,206.40 453.55,206.40 453.80,206.40 454.05,206.40 454.30,206.40 454.55,206.40 454.80,206.40" fill="none" stroke="#a6dca0" stroke-width="1.0"/><polyline points="417.80,206.40 418.05,206.40 418.30,206.40 418.55,206.40 418.80,206.40 419.05,206.40 419.30,206.40 419.55,206.40 419.80,206.40 420.05,206.40 420.30,206.40 420.55,206.40 420.80,206.40 421.05,206.40 421.30,206.40 421.55,206.39 421.80,206.39 422.05,206.36 422.30,206.32 422.55,206.21 422.80,206.01 423.05,205.64 423.30,204.99 423.55,203.92 423.80,202.30 424.05,199.98 424.30,196.91 424.55,193.14 424.80,188.90 425.05,184.57 425.30,180.66 425.55,177.74 425.80,176.24 426.05,176.41 426.30,178.22 426.55,181.38 426.80,185.42 427.05,189.77 427.30,193.94 427.55,197.59 427.80,200.51 428.05,202.68 428.30,204.18 428.55,205.15 428.80,205.73 429.05,206.06 429.30,206.24 429.55,206.33 429.80,206.37 430.05,206.39 430.30,206.40 430.55,206.40 430.80,206.40 431.05,206.40 431.30,206.40 431.55,206.40 431.80,206.40 432.05,206.40 432.30,206.40 432.55,206.40 432.80,206.39 433.05,206.37 433.30,206.34 433.55,206.26 433.80,206.11 434.05,205.83 434.30,205.35 434.55,204.56 434.80,203.35 435.05,201.63 435.30,199.35 435.55,196.55 435.80,193.40 436.05,190.19 436.30,187.29 436.55,185.12 436.80,184.00 437.05,184.13 437.30,185.47 437.55,187.82 437.80,190.82 438.05,194.05 438.30,197.15 438.55,199.85 438.80,202.02 439.05,203.63 439.30,204.75 439.55,205.47 439.80,205.90 440.05,206.15 440.30,206.28 440.55,206.35 440.80,206.38 441.05,206.39 441.30,206.40 441.55,206.40 441.80,206.40 442.05,206.40 442.30,206.40 442.55,206.40 442.80,206.40 443.05,206.40 443.30,206.40 443.55,206.40 443.80,206.40 444.05,206.40 444.30,206.40 444.55,206.40 444.80,206.40 445.05,206.40 445.30,206.40 445.55,206.40 445.80,206.40 446.05,206.40 446.30,206.40 446.55,206.40 446.80,206.40 447.05,206.40 447.30,206.40 447.55,206.40 447.80,206.40 448.05,206.40 448.30,206.40 448.55,206.40 448.80,206.40 449.05,206.40 449.30,206.40 449.55,206.40 449.80,206.40 450.05,206.40 450.30,206.40 450.55,206.40 450.80,206.40 451.05,206.40 451.30,206.40 451.55,206.40 451.80,206.40 452.05,206.40 452.30,206.40 452.55,206.40 452.80,206.40 453.05,206.40 453.30,206.40 453.55,206.40 453.80,206.40 454.05,206.40 454.30,206.40 454.55,206.40 454.80,206.40" fill="none" stroke="#9393dc" stroke-width="1.0"/><polyline points="417.80,205.22 418.05,204.42 418.30,203.27 418.55,201.72 418.80,199.78 419.05,197.56 419.30,195.25 419.55,193.11 419.80,191.43 420.05,190.46 420.30,190.37 420.55,191.17 420.80,192.73 421.05,194.80 421.30,197.10 421.55,199.36 421.80,201.36 422.05,202.99 422.30,204.22 422.55,205.08 422.80,205.65 423.05,206.00 423.30,206.19 423.55,206.30 423.80,206.35 424.05,206.38 424.30,206.39 424.55,206.40 424.80,206.40 425.05,206.40 425.30,206.40 425.55,206.40 425.80,206.40 426.05,206.40 426.30,206.40 426.55,206.40 426.80,206.40 427.05,206.40 427.30,206.40 427.55,206.40 427.80,206.40 428.05,206.40 428.30,206.40 428.55,206.40 428.80,206.40 429.05,206.40 429.30,206.40 429.55,206.40 429.80,206.40 430.05,206.40 430.30,206.40 430.55,206.40 430.80,206.40 431.05,206.40 431.30,206.40 431.55,206.40 431.80,206.40 432.05,206.40 432.30,206.40 432.55,206.40 432.80,206.40 433.05,206.40 433.30,206.40 433.55,206.40 433.80,206.40 434.05,206.40 434.30,206.40 434.55,206.40 434.80,206.40 435.05,206.40 435.30,206.40 435.55,206.40 435.80,206.40 436.05,206.40 436.30,206.40 436.55,206.40 436.80,206.40 437.05,206.40 437.30,206.40 437.55,206.40 437.80,206.40 438.05,206.40 438.30,206.40 438.55,206.40 438.80,206.40 439.05,206.40 439.30,206.40 439.55,206.40 439.80,206.40 440.05,206.40 440.30,206.40 440.55,206.40 440.80,206.40 441.05,206.40 441.30,206.40 441.55,206.40 441.80,206.40 442.05,206.40 442.30,206.40 442.55,206.40 442.80,206.40 443.05,206.40 443.30,206.40 443.55,206.40 443.80,206.40 444.05,206.40 444.30,206.40 444.55,206.40 444.80,206.40 445.05,206.40 445.30,206.40 445.55,206.40 445.80,206.40 446.05,206.40 446.30,206.40 446.55,206.40 446.80,206.40 447.05,206.40 447.30,206.40 447.55,206.40 447.80,206.40 448.05,206.40 448.30,206.40 448.55,206.39 448.80,206.38 449.05,206.36 449.30,206.30 449.55,206.19 449.80,205.98 450.05,205.62 450.30,205.01 450.55,204.08 450.80,202.72 451.05,200.90 451.30,198.63 451.55,196.03 451.80,193.31 452.05,190.80 452.30,188.82 452.55,187.69 452.80,187.59 453.05,188.52 453.30,190.35 453.55,192.78 453.80,195.48 454.05,198.13 454.30,200.48 454.55,202.40 454.80,203.84" fill="none" stroke="#767676" stroke-width="1.0"/><polyline points="417.80,206.40 418.05,206.40 418.30,206.40 418.55,206.40 418.80,206.40 419.05,206.40 419.30,206.40 419.55,206.40 419.80,206.40 420.05,206.40 420.30,206.40 420.55,206.40 420.80,206.40 421.05,206.40 421.30,206.40 421.55,206.40 421.80,206.40 422.05,206.40 422.30,206.40 422.55,206.40 422.80,206.40 423.05,206.40 423.30,206.40 423.55,206.40 423.80,206.40 424.05,206.40 424.30,206.40 424.55,206.40 424.80,206.40 425.05,206.40 425.30,206.40 425.55,206.40 425.80,206.40 426.05,206.40 426.30,206.40 426.55,206.40 426.80,206.40 427.05,206.40 427.30,206.40 427.55,206.40 427.80,206.40 428.05,206.40 428.30,206.40 428.55,206.40 428.80,206.40 429.05,206.40 429.30,206.40 429.55,206.40 429.80,206.40 430.05,206.40 430.30,206.40 430.55,206.40 430.80,206.40 431.05,206.40 431.30,206.40 431.55,206.40 431.80,206.40 432.05,206.40 432.30,206.40 432.55,206.40 432.80,206.40 433.05,206.40 433.30,206.40 433.55,206.40 433.80,206.40 434.05,206.40 434.30,206.40 434.55,206.40 434.80,206.40 435.05,206.40 435.30,206.40 435.55,206.40 435.80,206.40 436.05,206.40 436.30,206.40 436.55,206.40 436.80,206.40 437.05,206.40 437.30,206.40 437.55,206.40 437.80,206.40 438.05,206.40 438.30,206.39 438.55,206.39 438.80,206.37 439.05,206.33 439.30,206.26 439.55,206.12 439.80,205.88 440.05,205.48 440.30,204.88 440.55,204.03 440.80,202.89 441.05,201.50 441.30,199.93 441.55,198.33 441.80,196.89 442.05,195.81 442.30,195.25 442.55,195.31 442.80,195.98 443.05,197.15 443.30,198.64 443.55,200.25 443.80,201.78 444.05,203.11 444.30,204.15 444.55,204.88 444.80,205.29 445.05,205.40 445.30,205.21 445.55,204.69 445.80,203.83 446.05,202.62 446.30,201.09 446.55,199.31 446.80,197.46 447.05,195.75 447.30,194.40 447.55,193.63 447.80,193.56 448.05,194.20 448.30,195.44 448.55,197.10 448.80,198.95 449.05,200.76 449.30,202.36 449.55,203.67 449.80,204.65 450.05,205.35 450.30,205.80 450.55,206.08 450.80,206.23 451.05,206.32 451.30,206.36 451.55,206.38 451.80,206.39 452.05,206.40 452.30,206.40 452.55,206.40 452.80,206.40 453.05,206.40 453.30,206.40 453.55,206.40 453.80,206.40 454.05,206.40 454.30,206.40 454.55,206.40 454.80,206.40" fill="none" stroke="#e2a4a4" stroke-width="1.0"/>
<rect x="417.00" y="136.2" width="38.60" height="70.8" fill="none" stroke="#111" stroke-width="1.25"/>
<line x1="436.30" y1="212.60" x2="436.30" y2="225.20" stroke="#000" stroke-width="1.3"/>
<path d="M436.30,209.60 L439.10,214.80 L433.50,214.80 Z" fill="#000"/>
<text x="436.30" y="235.20" font-size="8" text-anchor="middle" fill="#a8284f" font-weight="normal" font-family="'Liberation Sans',sans-serif" stroke="#a8284f" stroke-width="0.28"  >Monoallelic</text>
<text x="483.30" y="40.60" font-size="8" text-anchor="middle" fill="#222" font-weight="normal" font-family="'Liberation Sans',sans-serif" stroke="#222" stroke-width="0.28"  >P6</text>
<polyline points="464.80,115.60 465.05,115.60 465.30,115.60 465.55,115.60 465.80,115.60 466.05,115.60 466.30,115.60 466.55,115.60 466.80,115.60 467.05,115.60 467.30,115.60 467.55,115.60 467.80,115.60 468.05,115.60 468.30,115.60 468.55,115.60 468.80,115.60 469.05,115.60 469.30,115.60 469.55,115.60 469.80,115.60 470.05,115.60 470.30,115.60 470.55,115.60 470.80,115.60 471.05,115.60 471.30,115.60 471.55,115.60 471.80,115.60 472.05,115.60 472.30,115.60 472.55,115.60 472.80,115.60 473.05,115.60 473.30,115.60 473.55,115.60 473.80,115.59 474.05,115.58 474.30,115.54 474.55,115.47 474.80,115.32 475.05,115.05 475.30,114.55 475.55,113.71 475.80,112.40 476.05,110.48 476.30,107.86 476.55,104.54 476.80,100.66 477.05,96.54 477.30,92.62 477.55,89.42 477.80,87.42 478.05,86.93 478.30,88.05 478.55,90.58 478.80,94.13 479.05,98.19 479.30,102.26 479.55,105.95 479.80,109.00 480.05,111.33 480.30,112.99 480.55,114.10 480.80,114.78 481.05,115.18 481.30,115.39 481.55,115.51 481.80,115.56 482.05,115.58 482.30,115.59 482.55,115.60 482.80,115.60 483.05,115.60 483.30,115.60 483.55,115.60 483.80,115.60 484.05,115.60 484.30,115.60 484.55,115.60 484.80,115.60 485.05,115.60 485.30,115.60 485.55,115.60 485.80,115.60 486.05,115.60 486.30,115.60 486.55,115.60 486.80,115.60 487.05,115.60 487.30,115.60 487.55,115.60 487.80,115.60 488.05,115.60 488.30,115.60 488.55,115.60 488.80,115.60 489.05,115.60 489.30,115.60 489.55,115.60 489.80,115.60 490.05,115.60 490.30,115.60 490.55,115.60 490.80,115.60 491.05,115.60 491.30,115.60 491.55,115.60 491.80,115.60 492.05,115.60 492.30,115.60 492.55,115.60 492.80,115.60 493.05,115.60 493.30,115.60 493.55,115.60 493.80,115.60 494.05,115.60 494.30,115.60 494.55,115.60 494.80,115.60 495.05,115.60 495.30,115.60 495.55,115.60 495.80,115.60 496.05,115.60 496.30,115.60 496.55,115.60 496.80,115.60 497.05,115.60 497.30,115.60 497.55,115.60 497.80,115.60 498.05,115.60 498.30,115.60 498.55,115.60 498.80,115.60 499.05,115.60 499.30,115.60 499.55,115.60 499.80,115.60 500.05,115.60 500.30,115.60 500.55,115.60 500.80,115.60 501.05,115.60 501.30,115.60 501.55,115.60 501.80,115.60" fill="none" stroke="#a6dca0" stroke-width="1.0"/><polyline points="464.80,115.60 465.05,115.60 465.30,115.60 465.55,115.60 465.80,115.60 466.05,115.60 466.30,115.60 466.55,115.60 466.80,115.60 467.05,115.60 467.30,115.60 467.55,115.60 467.80,115.60 468.05,115.60 468.30,115.60 468.55,115.59 468.80,115.59 469.05,115.56 469.30,115.52 469.55,115.42 469.80,115.22 470.05,114.85 470.30,114.21 470.55,113.16 470.80,111.57 471.05,109.29 471.30,106.27 471.55,102.56 471.80,98.39 472.05,94.13 472.30,90.29 472.55,87.41 472.80,85.93 473.05,86.10 473.30,87.89 473.55,91.00 473.80,94.96 474.05,99.24 474.30,103.35 474.55,106.93 474.80,109.80 475.05,111.94 475.30,113.41 475.55,114.37 475.80,114.94 476.05,115.27 476.30,115.44 476.55,115.53 476.80,115.57 477.05,115.59 477.30,115.60 477.55,115.60 477.80,115.60 478.05,115.60 478.30,115.60 478.55,115.60 478.80,115.60 479.05,115.60 479.30,115.60 479.55,115.60 479.80,115.60 480.05,115.60 480.30,115.60 480.55,115.60 480.80,115.60 481.05,115.60 481.30,115.60 481.55,115.60 481.80,115.60 482.05,115.60 482.30,115.60 482.55,115.60 482.80,115.60 483.05,115.60 483.30,115.60 483.55,115.60 483.80,115.60 484.05,115.60 484.30,115.60 484.55,115.60 484.80,115.60 485.05,115.60 485.30,115.60 485.55,115.60 485.80,115.60 486.05,115.60 486.30,115.60 486.55,115.60 486.80,115.60 487.05,115.60 487.30,115.60 487.55,115.60 487.80,115.60 488.05,115.60 488.30,115.60 488.55,115.60 488.80,115.60 489.05,115.60 489.30,115.60 489.55,115.60 489.80,115.60 490.05,115.60 490.30,115.60 490.55,115.60 490.80,115.60 491.05,115.60 491.30,115.60 491.55,115.60 491.80,115.60 492.05,115.60 492.30,115.60 492.55,115.60 492.80,115.60 493.05,115.60 493.30,115.60 493.55,115.60 493.80,115.60 494.05,115.60 494.30,115.60 494.55,115.60 494.80,115.60 495.05,115.60 495.30,115.60 495.55,115.60 495.80,115.60 496.05,115.60 496.30,115.60 496.55,115.60 496.80,115.60 497.05,115.60 497.30,115.60 497.55,115.60 497.80,115.60 498.05,115.60 498.30,115.60 498.55,115.60 498.80,115.60 499.05,115.60 499.30,115.60 499.55,115.60 499.80,115.60 500.05,115.60 500.30,115.60 500.55,115.60 500.80,115.60 501.05,115.60 501.30,115.60 501.55,115.60 501.80,115.60" fill="none" stroke="#9393dc" stroke-width="1.0"/><polyline points="464.80,114.35 465.05,113.41 465.30,111.97 465.55,109.92 465.80,107.21 466.05,103.87 466.30,100.12 466.55,96.29 466.80,92.84 467.05,90.25 467.30,88.92 467.55,89.07 467.80,90.68 468.05,93.47 468.30,97.04 468.55,100.89 468.80,104.58 469.05,107.80 469.30,110.39 469.55,112.31 469.80,113.63 470.05,114.49 470.30,115.01 470.55,115.30 470.80,115.46 471.05,115.54 471.30,115.57 471.55,115.59 471.80,115.60 472.05,115.60 472.30,115.60 472.55,115.60 472.80,115.60 473.05,115.60 473.30,115.60 473.55,115.60 473.80,115.60 474.05,115.60 474.30,115.60 474.55,115.60 474.80,115.60 475.05,115.60 475.30,115.60 475.55,115.60 475.80,115.60 476.05,115.60 476.30,115.60 476.55,115.60 476.80,115.60 477.05,115.60 477.30,115.60 477.55,115.60 477.80,115.60 478.05,115.60 478.30,115.60 478.55,115.59 478.80,115.58 479.05,115.56 479.30,115.52 479.55,115.44 479.80,115.29 480.05,115.03 480.30,114.60 480.55,113.97 480.80,113.08 481.05,111.91 481.30,110.51 481.55,108.95 481.80,107.40 482.05,106.05 482.30,105.08 482.55,104.65 482.80,104.84 483.05,105.60 483.30,106.82 483.55,108.32 483.80,109.90 484.05,111.38 484.30,112.64 484.55,113.65 484.80,114.38 485.05,114.88 485.30,115.20 485.55,115.39 485.80,115.49 486.05,115.55 486.30,115.58 486.55,115.59 486.80,115.60 487.05,115.60 487.30,115.60 487.55,115.60 487.80,115.60 488.05,115.60 488.30,115.60 488.55,115.60 488.80,115.60 489.05,115.60 489.30,115.60 489.55,115.60 489.80,115.60 490.05,115.60 490.30,115.60 490.55,115.60 490.80,115.60 491.05,115.60 491.30,115.60 491.55,115.60 491.80,115.60 492.05,115.60 492.30,115.60 492.55,115.60 492.80,115.60 493.05,115.60 493.30,115.60 493.55,115.60 493.80,115.60 494.05,115.60 494.30,115.60 494.55,115.60 494.80,115.60 495.05,115.60 495.30,115.59 495.55,115.59 495.80,115.56 496.05,115.52 496.30,115.41 496.55,115.21 496.80,114.83 497.05,114.15 497.30,113.02 497.55,111.29 497.80,108.77 498.05,105.39 498.30,101.17 498.55,96.33 498.80,91.29 499.05,86.62 499.30,82.96 499.55,80.86 499.80,80.66 500.05,82.40 500.30,85.79 500.55,90.31 500.80,95.32 501.05,100.24 501.30,104.61 501.55,108.17 501.80,110.85" fill="none" stroke="#767676" stroke-width="1.0"/><polyline points="464.80,115.60 465.05,115.60 465.30,115.60 465.55,115.60 465.80,115.60 466.05,115.60 466.30,115.60 466.55,115.60 466.80,115.60 467.05,115.60 467.30,115.60 467.55,115.60 467.80,115.60 468.05,115.60 468.30,115.60 468.55,115.60 468.80,115.60 469.05,115.60 469.30,115.60 469.55,115.60 469.80,115.60 470.05,115.60 470.30,115.60 470.55,115.60 470.80,115.60 471.05,115.60 471.30,115.60 471.55,115.60 471.80,115.60 472.05,115.60 472.30,115.60 472.55,115.60 472.80,115.60 473.05,115.60 473.30,115.60 473.55,115.60 473.80,115.60 474.05,115.60 474.30,115.60 474.55,115.60 474.80,115.60 475.05,115.60 475.30,115.60 475.55,115.60 475.80,115.60 476.05,115.60 476.30,115.60 476.55,115.60 476.80,115.60 477.05,115.60 477.30,115.60 477.55,115.60 477.80,115.60 478.05,115.60 478.30,115.60 478.55,115.59 478.80,115.58 479.05,115.55 479.30,115.50 479.55,115.40 479.80,115.21 480.05,114.88 480.30,114.36 480.55,113.56 480.80,112.45 481.05,110.99 481.30,109.23 481.55,107.29 481.80,105.35 482.05,103.66 482.30,102.45 482.55,101.92 482.80,102.15 483.05,103.10 483.30,104.63 483.55,106.50 483.80,108.47 484.05,110.31 484.30,111.89 484.55,113.11 484.80,113.97 485.05,114.46 485.30,114.61 485.55,114.37 485.80,113.68 486.05,112.40 486.30,110.38 486.55,107.46 486.80,103.57 487.05,98.80 487.30,93.42 487.55,87.93 487.80,82.98 488.05,79.28 488.30,77.37 488.55,77.59 488.80,79.89 489.05,83.90 489.30,89.00 489.55,94.52 489.80,99.81 490.05,104.41 490.30,108.09 490.55,110.79 490.80,112.59 491.05,113.60 491.30,113.94 491.55,113.65 491.80,112.70 492.05,110.99 492.30,108.40 492.55,104.88 492.80,100.47 493.05,95.40 493.30,90.11 493.55,85.22 493.80,81.38 494.05,79.17 494.30,78.97 494.55,80.79 494.80,84.34 495.05,89.08 495.30,94.34 495.55,99.50 495.80,104.08 496.05,107.81 496.30,110.62 496.55,112.59 496.80,113.88 497.05,114.68 497.30,115.13 497.55,115.37 497.80,115.50 498.05,115.56 498.30,115.58 498.55,115.59 498.80,115.60 499.05,115.60 499.30,115.60 499.55,115.60 499.80,115.60 500.05,115.60 500.30,115.60 500.55,115.60 500.80,115.60 501.05,115.60 501.30,115.60 501.55,115.60 501.80,115.60" fill="none" stroke="#e2a4a4" stroke-width="1.0"/>
<rect x="464.00" y="45.4" width="38.60" height="70.9" fill="none" stroke="#111" stroke-width="1.25"/>
<text x="483.30" y="53.20" font-size="8.8" text-anchor="middle" fill="#111" font-weight="normal" font-family="'Liberation Mono',monospace"   textLength="33.6" lengthAdjust="spacingAndGlyphs" stroke="#111" stroke-width="0.25">GC<tspan font-weight="bold">AN</tspan>TTG</text>
<line x1="483.10" y1="121.00" x2="483.10" y2="133.20" stroke="#000" stroke-width="1.3"/>
<path d="M483.10,118.00 L485.90,123.20 L480.30,123.20 Z" fill="#000"/>
<polyline points="464.80,206.40 465.05,206.40 465.30,206.40 465.55,206.40 465.80,206.40 466.05,206.40 466.30,206.40 466.55,206.40 466.80,206.40 467.05,206.40 467.30,206.40 467.55,206.40 467.80,206.40 468.05,206.40 468.30,206.40 468.55,206.40 468.80,206.40 469.05,206.40 469.30,206.40 469.55,206.40 469.80,206.40 470.05,206.40 470.30,206.40 470.55,206.40 470.80,206.40 471.05,206.40 471.30,206.40 471.55,206.40 471.80,206.40 472.05,206.40 472.30,206.40 472.55,206.40 472.80,206.40 473.05,206.40 473.30,206.40 473.55,206.39 473.80,206.37 474.05,206.34 474.30,206.27 474.55,206.12 474.80,205.84 475.05,205.36 475.30,204.55 475.55,203.30 475.80,201.50 476.05,199.07 476.30,196.04 476.55,192.57 476.80,188.95 477.05,185.59 477.30,182.96 477.55,181.46 477.80,181.31 478.05,182.56 478.30,185.00 478.55,188.24 478.80,191.84 479.05,195.37 479.30,198.51 479.55,201.06 479.80,202.99 480.05,204.34 480.30,205.23 480.55,205.77 480.80,206.08 481.05,206.24 481.30,206.33 481.55,206.37 481.80,206.39 482.05,206.40 482.30,206.40 482.55,206.40 482.80,206.40 483.05,206.40 483.30,206.40 483.55,206.40 483.80,206.40 484.05,206.40 484.30,206.40 484.55,206.40 484.80,206.40 485.05,206.40 485.30,206.40 485.55,206.40 485.80,206.40 486.05,206.40 486.30,206.40 486.55,206.40 486.80,206.40 487.05,206.40 487.30,206.40 487.55,206.40 487.80,206.40 488.05,206.40 488.30,206.40 488.55,206.40 488.80,206.40 489.05,206.40 489.30,206.40 489.55,206.40 489.80,206.40 490.05,206.40 490.30,206.40 490.55,206.40 490.80,206.40 491.05,206.40 491.30,206.40 491.55,206.40 491.80,206.40 492.05,206.40 492.30,206.40 492.55,206.40 492.80,206.40 493.05,206.40 493.30,206.40 493.55,206.40 493.80,206.40 494.05,206.40 494.30,206.40 494.55,206.40 494.80,206.40 495.05,206.40 495.30,206.40 495.55,206.40 495.80,206.40 496.05,206.40 496.30,206.40 496.55,206.40 496.80,206.40 497.05,206.40 497.30,206.40 497.55,206.40 497.80,206.40 498.05,206.40 498.30,206.40 498.55,206.40 498.80,206.40 499.05,206.40 499.30,206.40 499.55,206.40 499.80,206.40 500.05,206.40 500.30,206.40 500.55,206.40 500.80,206.40 501.05,206.40 501.30,206.40 501.55,206.40 501.80,206.40" fill="none" stroke="#a6dca0" stroke-width="1.0"/><polyline points="464.80,206.40 465.05,206.40 465.30,206.40 465.55,206.40 465.80,206.40 466.05,206.40 466.30,206.40 466.55,206.40 466.80,206.40 467.05,206.40 467.30,206.40 467.55,206.40 467.80,206.40 468.05,206.40 468.30,206.39 468.55,206.38 468.80,206.36 469.05,206.31 469.30,206.20 469.55,206.00 469.80,205.62 470.05,204.96 470.30,203.91 470.55,202.33 470.80,200.10 471.05,197.18 471.30,193.67 471.55,189.78 471.80,185.90 472.05,182.51 472.30,180.10 472.55,179.03 472.80,179.49 473.05,181.40 473.30,184.46 473.55,188.20 473.80,192.14 474.05,195.84 474.30,199.01 474.55,201.52 474.80,203.35 475.05,204.60 475.30,205.40 475.55,205.87 475.80,206.14 476.05,206.28 476.30,206.34 476.55,206.38 476.80,206.39 477.05,206.40 477.30,206.40 477.55,206.40 477.80,206.40 478.05,206.40 478.30,206.40 478.55,206.40 478.80,206.40 479.05,206.40 479.30,206.40 479.55,206.40 479.80,206.40 480.05,206.40 480.30,206.40 480.55,206.40 480.80,206.40 481.05,206.40 481.30,206.40 481.55,206.40 481.80,206.40 482.05,206.40 482.30,206.40 482.55,206.40 482.80,206.40 483.05,206.40 483.30,206.40 483.55,206.40 483.80,206.40 484.05,206.40 484.30,206.40 484.55,206.40 484.80,206.40 485.05,206.40 485.30,206.40 485.55,206.40 485.80,206.40 486.05,206.40 486.30,206.40 486.55,206.40 486.80,206.40 487.05,206.40 487.30,206.40 487.55,206.40 487.80,206.40 488.05,206.40 488.30,206.40 488.55,206.40 488.80,206.40 489.05,206.40 489.30,206.40 489.55,206.40 489.80,206.40 490.05,206.40 490.30,206.40 490.55,206.40 490.80,206.40 491.05,206.40 491.30,206.40 491.55,206.40 491.80,206.40 492.05,206.40 492.30,206.40 492.55,206.40 492.80,206.40 493.05,206.40 493.30,206.40 493.55,206.40 493.80,206.40 494.05,206.40 494.30,206.40 494.55,206.40 494.80,206.40 495.05,206.40 495.30,206.40 495.55,206.40 495.80,206.40 496.05,206.40 496.30,206.40 496.55,206.40 496.80,206.40 497.05,206.40 497.30,206.40 497.55,206.40 497.80,206.40 498.05,206.40 498.30,206.40 498.55,206.40 498.80,206.40 499.05,206.40 499.30,206.40 499.55,206.40 499.80,206.40 500.05,206.40 500.30,206.40 500.55,206.40 500.80,206.40 501.05,206.40 501.30,206.40 501.55,206.40 501.80,206.40" fill="none" stroke="#9393dc" stroke-width="1.0"/><polyline points="464.80,204.37 465.05,203.07 465.30,201.25 465.55,198.87 465.80,195.99 466.05,192.81 466.30,189.64 466.55,186.87 466.80,184.90 467.05,184.03 467.30,184.40 467.55,185.97 467.80,188.46 468.05,191.52 468.30,194.74 468.55,197.77 468.80,200.36 469.05,202.41 469.30,203.91 469.55,204.93 469.80,205.58 470.05,205.97 470.30,206.18 470.55,206.30 470.80,206.35 471.05,206.38 471.30,206.39 471.55,206.40 471.80,206.40 472.05,206.40 472.30,206.40 472.55,206.40 472.80,206.40 473.05,206.40 473.30,206.40 473.55,206.40 473.80,206.40 474.05,206.40 474.30,206.40 474.55,206.40 474.80,206.40 475.05,206.40 475.30,206.40 475.55,206.40 475.80,206.40 476.05,206.40 476.30,206.40 476.55,206.40 476.80,206.40 477.05,206.40 477.30,206.40 477.55,206.40 477.80,206.40 478.05,206.40 478.30,206.40 478.55,206.40 478.80,206.40 479.05,206.40 479.30,206.40 479.55,206.40 479.80,206.40 480.05,206.40 480.30,206.40 480.55,206.40 480.80,206.40 481.05,206.40 481.30,206.40 481.55,206.40 481.80,206.40 482.05,206.40 482.30,206.40 482.55,206.40 482.80,206.40 483.05,206.40 483.30,206.40 483.55,206.40 483.80,206.40 484.05,206.40 484.30,206.40 484.55,206.40 484.80,206.40 485.05,206.40 485.30,206.40 485.55,206.40 485.80,206.40 486.05,206.40 486.30,206.40 486.55,206.40 486.80,206.40 487.05,206.40 487.30,206.40 487.55,206.40 487.80,206.40 488.05,206.40 488.30,206.40 488.55,206.40 488.80,206.40 489.05,206.40 489.30,206.40 489.55,206.40 489.80,206.40 490.05,206.40 490.30,206.40 490.55,206.40 490.80,206.40 491.05,206.40 491.30,206.40 491.55,206.40 491.80,206.40 492.05,206.40 492.30,206.40 492.55,206.40 492.80,206.40 493.05,206.40 493.30,206.40 493.55,206.40 493.80,206.40 494.05,206.40 494.30,206.40 494.55,206.40 494.80,206.40 495.05,206.40 495.30,206.39 495.55,206.38 495.80,206.34 496.05,206.27 496.30,206.12 496.55,205.84 496.80,205.34 497.05,204.51 497.30,203.19 497.55,201.27 497.80,198.63 498.05,195.30 498.30,191.41 498.55,187.27 498.80,183.34 499.05,180.13 499.30,178.12 499.55,177.63 499.80,178.75 500.05,181.29 500.30,184.86 500.55,188.93 500.80,193.02 501.05,196.71 501.30,199.77 501.55,202.12 501.80,203.78" fill="none" stroke="#767676" stroke-width="1.0"/><polyline points="464.80,206.40 465.05,206.40 465.30,206.40 465.55,206.40 465.80,206.40 466.05,206.40 466.30,206.40 466.55,206.40 466.80,206.40 467.05,206.40 467.30,206.40 467.55,206.40 467.80,206.40 468.05,206.40 468.30,206.40 468.55,206.40 468.80,206.40 469.05,206.40 469.30,206.40 469.55,206.40 469.80,206.40 470.05,206.40 470.30,206.40 470.55,206.40 470.80,206.40 471.05,206.40 471.30,206.40 471.55,206.40 471.80,206.40 472.05,206.40 472.30,206.40 472.55,206.40 472.80,206.40 473.05,206.40 473.30,206.40 473.55,206.40 473.80,206.40 474.05,206.40 474.30,206.40 474.55,206.40 474.80,206.40 475.05,206.40 475.30,206.40 475.55,206.40 475.80,206.40 476.05,206.40 476.30,206.40 476.55,206.40 476.80,206.40 477.05,206.40 477.30,206.40 477.55,206.40 477.80,206.39 478.05,206.38 478.30,206.35 478.55,206.30 478.80,206.19 479.05,206.00 479.30,205.65 479.55,205.08 479.80,204.22 480.05,202.99 480.30,201.36 480.55,199.36 480.80,197.10 481.05,194.80 481.30,192.73 481.55,191.17 481.80,190.37 482.05,190.46 482.30,191.43 482.55,193.11 482.80,195.25 483.05,197.56 483.30,199.78 483.55,201.71 483.80,203.24 484.05,204.36 484.30,205.08 484.55,205.44 484.80,205.45 485.05,205.08 485.30,204.25 485.55,202.83 485.80,200.66 486.05,197.64 486.30,193.75 486.55,189.12 486.80,184.10 487.05,179.20 487.30,175.06 487.55,172.28 487.80,171.30 488.05,172.28 488.30,175.06 488.55,179.20 488.80,184.10 489.05,189.12 489.30,193.74 489.55,197.63 489.80,200.64 490.05,202.78 490.30,204.14 490.55,204.86 490.80,205.02 491.05,204.67 491.30,203.78 491.55,202.27 491.80,200.07 492.05,197.17 492.30,193.66 492.55,189.78 492.80,185.90 493.05,182.51 493.30,180.10 493.55,179.03 493.80,179.49 494.05,181.40 494.30,184.46 494.55,188.20 494.80,192.14 495.05,195.84 495.30,199.01 495.55,201.52 495.80,203.35 496.05,204.60 496.30,205.40 496.55,205.87 496.80,206.14 497.05,206.28 497.30,206.34 497.55,206.38 497.80,206.39 498.05,206.40 498.30,206.40 498.55,206.40 498.80,206.40 499.05,206.40 499.30,206.40 499.55,206.40 499.80,206.40 500.05,206.40 500.30,206.40 500.55,206.40 500.80,206.40 501.05,206.40 501.30,206.40 501.55,206.40 501.80,206.40" fill="none" stroke="#e2a4a4" stroke-width="1.0"/>
<rect x="464.00" y="136.2" width="38.60" height="70.8" fill="none" stroke="#111" stroke-width="1.25"/>
<line x1="483.30" y1="212.60" x2="483.30" y2="225.20" stroke="#000" stroke-width="1.3"/>
<path d="M483.30,209.60 L486.10,214.80 L480.50,214.80 Z" fill="#000"/>
<text x="483.30" y="235.20" font-size="8" text-anchor="middle" fill="#a8284f" font-weight="normal" font-family="'Liberation Sans',sans-serif" stroke="#a8284f" stroke-width="0.28"  >Monoallelic</text>
<line x1="44.60" y1="401.50" x2="48.90" y2="401.50" stroke="#000" stroke-width="1.1"/>
<text x="42.70" y="404.40" font-size="8.0" text-anchor="end" fill="#222" font-weight="normal" font-family="'Liberation Sans',sans-serif" stroke="#222" stroke-width="0.28"  >0</text>
<line x1="44.60" y1="377.20" x2="48.90" y2="377.20" stroke="#000" stroke-width="1.1"/>
<text x="42.70" y="380.10" font-size="8.0" text-anchor="end" fill="#222" font-weight="normal" font-family="'Liberation Sans',sans-serif" stroke="#222" stroke-width="0.28"  >20</text>
<line x1="44.60" y1="352.90" x2="48.90" y2="352.90" stroke="#000" stroke-width="1.1"/>
<text x="42.70" y="355.80" font-size="8.0" text-anchor="end" fill="#222" font-weight="normal" font-family="'Liberation Sans',sans-serif" stroke="#222" stroke-width="0.28"  >40</text>
<line x1="44.60" y1="328.60" x2="48.90" y2="328.60" stroke="#000" stroke-width="1.1"/>
<text x="42.70" y="331.50" font-size="8.0" text-anchor="end" fill="#222" font-weight="normal" font-family="'Liberation Sans',sans-serif" stroke="#222" stroke-width="0.28"  >60</text>
<line x1="44.60" y1="304.30" x2="48.90" y2="304.30" stroke="#000" stroke-width="1.1"/>
<text x="42.70" y="307.20" font-size="8.0" text-anchor="end" fill="#222" font-weight="normal" font-family="'Liberation Sans',sans-serif" stroke="#222" stroke-width="0.28"  >80</text>
<line x1="44.60" y1="280.00" x2="48.90" y2="280.00" stroke="#000" stroke-width="1.1"/>
<text x="42.70" y="282.90" font-size="8.0" text-anchor="end" fill="#222" font-weight="normal" font-family="'Liberation Sans',sans-serif" stroke="#222" stroke-width="0.28"  >100</text>
<line x1="58.40" y1="401.50" x2="58.40" y2="404.60" stroke="#000" stroke-width="1.1"/>
<rect x="74.30" y="298.60" width="14.00" height="102.90" fill="#542462" />
<line x1="81.30" y1="401.50" x2="81.30" y2="404.60" stroke="#000" stroke-width="1.1"/>
<rect x="110.60" y="399.20" width="14.00" height="2.30" fill="#a8a8a8" />
<line x1="117.60" y1="401.50" x2="117.60" y2="404.60" stroke="#000" stroke-width="1.1"/>
<rect x="132.10" y="330.40" width="14.00" height="71.10" fill="#542462" />
<line x1="139.10" y1="401.50" x2="139.10" y2="404.60" stroke="#000" stroke-width="1.1"/>
<text transform="translate(62.40,411.00) rotate(-45)" font-size="8.0" text-anchor="end" fill="#222" stroke="#222" stroke-width="0.28" font-family="'Liberation Sans',sans-serif" >WT allele</text>
<text transform="translate(85.30,411.00) rotate(-45)" font-size="8.0" text-anchor="end" fill="#222" stroke="#222" stroke-width="0.28" font-family="'Liberation Sans',sans-serif" >MUT allele</text>
<text transform="translate(121.60,411.00) rotate(-45)" font-size="8.0" text-anchor="end" fill="#222" stroke="#222" stroke-width="0.28" font-family="'Liberation Sans',sans-serif" >WT allele</text>
<text transform="translate(143.10,411.00) rotate(-45)" font-size="8.0" text-anchor="end" fill="#222" stroke="#222" stroke-width="0.28" font-family="'Liberation Sans',sans-serif" >MUT allele</text>
<text x="81.50" y="293.50" font-size="7.6" text-anchor="middle" fill="#222" font-weight="normal" font-family="'Liberation Sans',sans-serif" stroke="#222" stroke-width="0.28"  >PF-382</text>
<text x="139.10" y="325.40" font-size="7.6" text-anchor="middle" fill="#222" font-weight="normal" font-family="'Liberation Sans',sans-serif" stroke="#222" stroke-width="0.28"  >DU.528</text>
<text transform="translate(23.4,339) rotate(-90)" font-size="8.5" text-anchor="middle" fill="#222" stroke="#222" stroke-width="0.28" font-family="'Liberation Sans',sans-serif">No. of reads mapped</text>
<line x1="273.60" y1="388.53" x2="275.90" y2="388.53" stroke="#000" stroke-width="0.9"/>
<line x1="273.60" y1="380.94" x2="275.90" y2="380.94" stroke="#000" stroke-width="0.9"/>
<line x1="273.60" y1="375.55" x2="275.90" y2="375.55" stroke="#000" stroke-width="0.9"/>
<line x1="273.60" y1="371.37" x2="275.90" y2="371.37" stroke="#000" stroke-width="0.9"/>
<line x1="273.60" y1="367.96" x2="275.90" y2="367.96" stroke="#000" stroke-width="0.9"/>
<line x1="273.60" y1="365.08" x2="275.90" y2="365.08" stroke="#000" stroke-width="0.9"/>
<line x1="273.60" y1="362.58" x2="275.90" y2="362.58" stroke="#000" stroke-width="0.9"/>
<line x1="273.60" y1="360.37" x2="275.90" y2="360.37" stroke="#000" stroke-width="0.9"/>
<line x1="273.60" y1="345.43" x2="275.90" y2="345.43" stroke="#000" stroke-width="0.9"/>
<line x1="273.60" y1="337.84" x2="275.90" y2="337.84" stroke="#000" stroke-width="0.9"/>
<line x1="273.60" y1="332.45" x2="275.90" y2="332.45" stroke="#000" stroke-width="0.9"/>
<line x1="273.60" y1="328.27" x2="275.90" y2="328.27" stroke="#000" stroke-width="0.9"/>
<line x1="273.60" y1="324.86" x2="275.90" y2="324.86" stroke="#000" stroke-width="0.9"/>
<line x1="273.60" y1="321.98" x2="275.90" y2="321.98" stroke="#000" stroke-width="0.9"/>
<line x1="273.60" y1="319.48" x2="275.90" y2="319.48" stroke="#000" stroke-width="0.9"/>
<line x1="273.60" y1="317.27" x2="275.90" y2="317.27" stroke="#000" stroke-width="0.9"/>
<line x1="273.60" y1="302.33" x2="275.90" y2="302.33" stroke="#000" stroke-width="0.9"/>
<line x1="273.60" y1="294.74" x2="275.90" y2="294.74" stroke="#000" stroke-width="0.9"/>
<line x1="273.60" y1="289.35" x2="275.90" y2="289.35" stroke="#000" stroke-width="0.9"/>
<line x1="273.60" y1="285.17" x2="275.90" y2="285.17" stroke="#000" stroke-width="0.9"/>
<line x1="273.60" y1="281.76" x2="275.90" y2="281.76" stroke="#000" stroke-width="0.9"/>
<line x1="273.60" y1="278.88" x2="275.90" y2="278.88" stroke="#000" stroke-width="0.9"/>
<line x1="273.60" y1="276.38" x2="275.90" y2="276.38" stroke="#000" stroke-width="0.9"/>
<line x1="273.60" y1="274.17" x2="275.90" y2="274.17" stroke="#000" stroke-width="0.9"/>
<line x1="272.00" y1="401.50" x2="275.90" y2="401.50" stroke="#000" stroke-width="1.1"/>
<text x="270.50" y="404.40" font-size="8" text-anchor="end" fill="#222" font-weight="normal" font-family="'Liberation Sans',sans-serif" stroke="#222" stroke-width="0.28"  >1</text>
<line x1="272.00" y1="358.40" x2="275.90" y2="358.40" stroke="#000" stroke-width="1.1"/>
<text x="270.50" y="361.30" font-size="8" text-anchor="end" fill="#222" font-weight="normal" font-family="'Liberation Sans',sans-serif" stroke="#222" stroke-width="0.28"  >10</text>
<line x1="272.00" y1="315.30" x2="275.90" y2="315.30" stroke="#000" stroke-width="1.1"/>
<text x="270.50" y="318.20" font-size="8" text-anchor="end" fill="#222" font-weight="normal" font-family="'Liberation Sans',sans-serif" stroke="#222" stroke-width="0.28"  >100</text>
<line x1="272.00" y1="272.20" x2="275.90" y2="272.20" stroke="#000" stroke-width="1.1"/>
<text x="270.50" y="275.10" font-size="8" text-anchor="end" fill="#222" font-weight="normal" font-family="'Liberation Sans',sans-serif" stroke="#222" stroke-width="0.28"  >1000</text>
<line x1="288.50" y1="390.00" x2="288.50" y2="398.00" stroke="#262626" stroke-width="1.2"/>
<line x1="284.40" y1="390.40" x2="292.60" y2="390.40" stroke="#111" stroke-width="1.3"/>
<rect x="280.20" y="398.00" width="16.60" height="3.50" fill="#a8052c" />
<line x1="288.50" y1="401.50" x2="288.50" y2="404.80" stroke="#000" stroke-width="1.1"/>
<text x="288.50" y="414.60" font-size="8" text-anchor="middle" fill="#222" font-weight="normal" font-family="'Liberation Sans',sans-serif" stroke="#222" stroke-width="0.28"  >WT</text>
<line x1="313.50" y1="370.75" x2="313.50" y2="380.75" stroke="#262626" stroke-width="1.2"/>
<line x1="309.40" y1="371.15" x2="317.60" y2="371.15" stroke="#111" stroke-width="1.3"/>
<rect x="305.20" y="380.75" width="16.60" height="20.75" fill="#a8052c" />
<line x1="313.50" y1="401.50" x2="313.50" y2="404.80" stroke="#000" stroke-width="1.1"/>
<text x="313.50" y="414.60" font-size="8" text-anchor="middle" fill="#222" font-weight="normal" font-family="'Liberation Sans',sans-serif" stroke="#222" stroke-width="0.28"  >P2</text>
<text x="313.50" y="369.75" font-size="9" text-anchor="middle" fill="#222" font-weight="bold" font-family="'Liberation Sans',sans-serif"   >**</text>
<line x1="338.50" y1="353.25" x2="338.50" y2="360.75" stroke="#262626" stroke-width="1.2"/>
<line x1="334.40" y1="353.65" x2="342.60" y2="353.65" stroke="#111" stroke-width="1.3"/>
<rect x="330.20" y="360.75" width="16.60" height="40.75" fill="#a8052c" />
<line x1="338.50" y1="401.50" x2="338.50" y2="404.80" stroke="#000" stroke-width="1.1"/>
<text x="338.50" y="414.60" font-size="8" text-anchor="middle" fill="#222" font-weight="normal" font-family="'Liberation Sans',sans-serif" stroke="#222" stroke-width="0.28"  >A3</text>
<text x="338.50" y="352.25" font-size="9" text-anchor="middle" fill="#222" font-weight="bold" font-family="'Liberation Sans',sans-serif"   >****</text>
<line x1="363.50" y1="318.00" x2="363.50" y2="335.75" stroke="#262626" stroke-width="1.2"/>
<line x1="359.40" y1="318.40" x2="367.60" y2="318.40" stroke="#111" stroke-width="1.3"/>
<rect x="355.20" y="335.75" width="16.60" height="65.75" fill="#a8052c" />
<line x1="363.50" y1="401.50" x2="363.50" y2="404.80" stroke="#000" stroke-width="1.1"/>
<text x="363.50" y="414.60" font-size="8" text-anchor="middle" fill="#222" font-weight="normal" font-family="'Liberation Sans',sans-serif" stroke="#222" stroke-width="0.28"  >A1</text>
<text x="363.50" y="317.00" font-size="9" text-anchor="middle" fill="#222" font-weight="bold" font-family="'Liberation Sans',sans-serif"   >*</text>
<line x1="388.50" y1="370.75" x2="388.50" y2="382.50" stroke="#262626" stroke-width="1.2"/>
<line x1="384.40" y1="371.15" x2="392.60" y2="371.15" stroke="#111" stroke-width="1.3"/>
<rect x="380.20" y="382.50" width="16.60" height="19.00" fill="#a8052c" />
<line x1="388.50" y1="401.50" x2="388.50" y2="404.80" stroke="#000" stroke-width="1.1"/>
<text x="388.50" y="414.60" font-size="8" text-anchor="middle" fill="#222" font-weight="normal" font-family="'Liberation Sans',sans-serif" stroke="#222" stroke-width="0.28"  >P6</text>
<text x="388.50" y="424.40" font-size="8" text-anchor="middle" fill="#222" font-weight="normal" font-family="'Liberation Sans',sans-serif" stroke="#222" stroke-width="0.28"  >A6</text>
<text x="388.50" y="369.75" font-size="9" text-anchor="middle" fill="#222" font-weight="bold" font-family="'Liberation Sans',sans-serif"   >*</text>
<line x1="413.50" y1="310.00" x2="413.50" y2="322.50" stroke="#262626" stroke-width="1.2"/>
<line x1="409.40" y1="310.40" x2="417.60" y2="310.40" stroke="#111" stroke-width="1.3"/>
<rect x="405.20" y="322.50" width="16.60" height="79.00" fill="#a8052c" />
<line x1="413.50" y1="401.50" x2="413.50" y2="404.80" stroke="#000" stroke-width="1.1"/>
<text x="413.50" y="414.60" font-size="8" text-anchor="middle" fill="#222" font-weight="normal" font-family="'Liberation Sans',sans-serif" stroke="#222" stroke-width="0.28"  >PF</text>
<text x="413.50" y="424.40" font-size="8" text-anchor="middle" fill="#222" font-weight="normal" font-family="'Liberation Sans',sans-serif" stroke="#222" stroke-width="0.28"  >-382</text>
<text x="413.50" y="309.00" font-size="9" text-anchor="middle" fill="#222" font-weight="bold" font-family="'Liberation Sans',sans-serif"   >***</text>
<line x1="438.50" y1="379.25" x2="438.50" y2="381.75" stroke="#262626" stroke-width="1.2"/>
<line x1="434.40" y1="379.65" x2="442.60" y2="379.65" stroke="#111" stroke-width="1.3"/>
<rect x="430.20" y="381.75" width="16.60" height="19.75" fill="#a8052c" />
<line x1="438.50" y1="401.50" x2="438.50" y2="404.80" stroke="#000" stroke-width="1.1"/>
<text x="438.50" y="414.60" font-size="8" text-anchor="middle" fill="#222" font-weight="normal" font-family="'Liberation Sans',sans-serif" stroke="#222" stroke-width="0.28"  >DU.528</text>
<text x="438.50" y="424.40" font-size="8" text-anchor="middle" fill="#222" font-weight="normal" font-family="'Liberation Sans',sans-serif" stroke="#222" stroke-width="0.28"  >A2</text>
<text x="438.50" y="434.20" font-size="8" text-anchor="middle" fill="#222" font-weight="normal" font-family="'Liberation Sans',sans-serif" stroke="#222" stroke-width="0.28"  >P3</text>
<text x="438.50" y="444.00" font-size="8" text-anchor="middle" fill="#222" font-weight="normal" font-family="'Liberation Sans',sans-serif" stroke="#222" stroke-width="0.28"  >P4</text>
<text x="438.50" y="453.80" font-size="8" text-anchor="middle" fill="#222" font-weight="normal" font-family="'Liberation Sans',sans-serif" stroke="#222" stroke-width="0.28"  >P5</text>
<text x="438.50" y="378.25" font-size="9" text-anchor="middle" fill="#222" font-weight="bold" font-family="'Liberation Sans',sans-serif"   >***</text>
<line x1="463.50" y1="371.00" x2="463.50" y2="375.50" stroke="#262626" stroke-width="1.2"/>
<line x1="459.40" y1="371.40" x2="467.60" y2="371.40" stroke="#111" stroke-width="1.3"/>
<rect x="455.20" y="375.50" width="16.60" height="26.00" fill="#a8052c" />
<line x1="463.50" y1="401.50" x2="463.50" y2="404.80" stroke="#000" stroke-width="1.1"/>
<text x="463.50" y="414.60" font-size="8" text-anchor="middle" fill="#222" font-weight="normal" font-family="'Liberation Sans',sans-serif" stroke="#222" stroke-width="0.28"  >A4</text>
<text x="463.50" y="370.00" font-size="9" text-anchor="middle" fill="#222" font-weight="bold" font-family="'Liberation Sans',sans-serif"   >****</text>
<line x1="488.50" y1="378.75" x2="488.50" y2="383.75" stroke="#262626" stroke-width="1.2"/>
<line x1="484.40" y1="379.15" x2="492.60" y2="379.15" stroke="#111" stroke-width="1.3"/>
<rect x="480.20" y="383.75" width="16.60" height="17.75" fill="#a8052c" />
<line x1="488.50" y1="401.50" x2="488.50" y2="404.80" stroke="#000" stroke-width="1.1"/>
<text x="488.50" y="414.60" font-size="8" text-anchor="middle" fill="#222" font-weight="normal" font-family="'Liberation Sans',sans-serif" stroke="#222" stroke-width="0.28"  >A9</text>
<text x="488.50" y="377.75" font-size="9" text-anchor="middle" fill="#222" font-weight="bold" font-family="'Liberation Sans',sans-serif"   >**</text>
<text transform="translate(234.1,335) rotate(-90)" font-size="8.7" text-anchor="middle" fill="#222" stroke="#222" stroke-width="0.28" font-family="'Liberation Sans',sans-serif">Firefly luciferase activity</text>
<text transform="translate(246.2,335) rotate(-90)" font-size="8.7" text-anchor="middle" fill="#222" stroke="#222" stroke-width="0.28" font-family="'Liberation Sans',sans-serif">(normalised to NOI)</text>
<rect x="114.80" y="481.80" width="134.85" height="9.60" fill="#f2b233" />
<line x1="115.70" y1="494.00" x2="249.65" y2="494.00" stroke="#3a3040" stroke-width="1.2"/>
<text x="6.90" y="478.10" font-size="9.2" text-anchor="start" fill="#111" font-weight="bold" font-family="'Liberation Mono',monospace" stroke="#111" stroke-width="0.28"  >WT</text>
<text x="44.9" y="477.40" font-size="9.75" font-family="'Liberation Mono',monospace" xml:space="preserve"><tspan fill="#1a1a1a" stroke="#1a1a1a" stroke-width="0.32">GAAACCGTTAGAATCCATCCCTGCGCCCT</tspan></text>
<line x1="50.75" y1="479.80" x2="97.55" y2="479.80" stroke="#3a3a3a" stroke-width="1.0"/>
<text x="6.90" y="490.10" font-size="9.2" text-anchor="start" fill="#111" font-weight="bold" font-family="'Liberation Mono',monospace" stroke="#111" stroke-width="0.28"  >PF382</text>
<text x="44.9" y="489.40" font-size="9.75" font-family="'Liberation Mono',monospace" xml:space="preserve"><tspan fill="#1a1a1a" stroke="#1a1a1a" stroke-width="0.32">GAAACCGTT</tspan><tspan fill="#8e2146" stroke="#8e2146" stroke-width="0.32">TAA</tspan><tspan fill="#8e2146" stroke="#8e2146" stroke-width="0.32">CCAGCAAAGAAACCGTT</tspan><tspan fill="#1a1a1a" stroke="#1a1a1a" stroke-width="0.32">AGAATC</tspan><tspan fill="#1a1a1a" stroke="#1a1a1a" stroke-width="0.32">CATCCCT</tspan></text>
<line x1="50.75" y1="491.80" x2="97.55" y2="491.80" stroke="#3a3a3a" stroke-width="1.0"/>
<text x="6.90" y="518.50" font-size="9.2" text-anchor="start" fill="#111" font-weight="bold" font-family="'Liberation Mono',monospace" stroke="#111" stroke-width="0.28"  >1F10</text>
<text x="44.9" y="517.80" font-size="9.75" font-family="'Liberation Mono',monospace" xml:space="preserve"><tspan fill="#1a1a1a" stroke="#1a1a1a" stroke-width="0.32">GAAACCGTT</tspan><tspan fill="#8e2146" stroke="#8e2146" stroke-width="0.32">TAACCAGCAAAGAAACCGTT</tspan><tspan fill="#1a1a1a" stroke="#1a1a1a" stroke-width="0.32">AGAATCCATCCCT</tspan></text>
<line x1="50.75" y1="520.20" x2="97.55" y2="520.20" stroke="#3a3a3a" stroke-width="1.0"/>
<line x1="173.60" y1="520.20" x2="214.55" y2="520.20" stroke="#8e2146" stroke-width="1.0"/>
<text x="6.90" y="540.40" font-size="9.2" text-anchor="start" fill="#111" font-weight="bold" font-family="'Liberation Mono',monospace" stroke="#111" stroke-width="0.28"  >3H7</text>
<text x="44.9" y="539.70" font-size="9.75" font-family="'Liberation Mono',monospace" xml:space="preserve"><tspan fill="#1a1a1a" stroke="#1a1a1a" stroke-width="0.32">GAAACCGTT</tspan><tspan fill="#8e2146" stroke="#8e2146" stroke-width="0.32">TAACCAGCAAAGAAACCGTT</tspan><tspan fill="#1a1a1a" stroke="#1a1a1a" stroke-width="0.32">AGAATCCATCCCT</tspan></text>
<line x1="50.75" y1="542.10" x2="97.55" y2="542.10" stroke="#3a3a3a" stroke-width="1.0"/>
<line x1="173.60" y1="542.10" x2="214.55" y2="542.10" stroke="#8e2146" stroke-width="1.0"/>
<text x="6.90" y="562.40" font-size="9.2" text-anchor="start" fill="#111" font-weight="bold" font-family="'Liberation Mono',monospace" stroke="#111" stroke-width="0.28"  >5C11</text>
<text x="44.9" y="561.70" font-size="9.75" font-family="'Liberation Mono',monospace" xml:space="preserve"><tspan fill="#1a1a1a" stroke="#1a1a1a" stroke-width="0.32">GAAACCGTT</tspan><tspan fill="#8e2146" stroke="#8e2146" stroke-width="0.32">TAACCAGCAAAGAAACCGTT</tspan><tspan fill="#1a1a1a" stroke="#1a1a1a" stroke-width="0.32">AGAATCCATCCCT</tspan></text>
<line x1="50.75" y1="564.10" x2="97.55" y2="564.10" stroke="#3a3a3a" stroke-width="1.0"/>
<line x1="173.60" y1="564.10" x2="214.55" y2="564.10" stroke="#8e2146" stroke-width="1.0"/>
<text x="6.90" y="584.50" font-size="9.2" text-anchor="start" fill="#111" font-weight="bold" font-family="'Liberation Mono',monospace" stroke="#111" stroke-width="0.28"  >4H12</text>
<text x="44.9" y="583.80" font-size="9.75" font-family="'Liberation Mono',monospace" xml:space="preserve"><tspan fill="#1a1a1a" stroke="#1a1a1a" stroke-width="0.32">GAAACCGTT</tspan><tspan fill="#8e2146" stroke="#8e2146" stroke-width="0.32">TAACCAGCA/</tspan><tspan fill="#8e2146" stroke="#8e2146" stroke-width="0.32" font-weight="bold">191bp ins</tspan><tspan fill="#8e2146" stroke="#8e2146" stroke-width="0.32">/GAAACCGTT</tspan><tspan fill="#1a1a1a" stroke="#1a1a1a" stroke-width="0.32">AGAA</tspan></text>
<line x1="50.75" y1="586.20" x2="97.55" y2="586.20" stroke="#3a3a3a" stroke-width="1.0"/>
<line x1="220.40" y1="586.20" x2="267.20" y2="586.20" stroke="#8e2146" stroke-width="1.0"/>
<text x="6.90" y="606.90" font-size="9.2" text-anchor="start" fill="#111" font-weight="bold" font-family="'Liberation Mono',monospace" stroke="#111" stroke-width="0.28"  >6D4</text>
<text x="44.9" y="606.20" font-size="9.75" font-family="'Liberation Mono',monospace" xml:space="preserve"><tspan fill="#1a1a1a" stroke="#1a1a1a" stroke-width="0.32">GAAACCGTT</tspan><tspan fill="#8e2146" stroke="#8e2146" stroke-width="0.32">TAACCAGCA/</tspan><tspan fill="#8e2146" stroke="#8e2146" stroke-width="0.32" font-weight="bold">16bp ins</tspan><tspan fill="#8e2146" stroke="#8e2146" stroke-width="0.32">/AAGAAACCGTT</tspan><tspan fill="#1a1a1a" stroke="#1a1a1a" stroke-width="0.32">AGA</tspan></text>
<line x1="50.75" y1="608.60" x2="97.55" y2="608.60" stroke="#3a3a3a" stroke-width="1.0"/>
<line x1="226.25" y1="608.60" x2="273.05" y2="608.60" stroke="#8e2146" stroke-width="1.0"/>
<text x="6.90" y="629.00" font-size="9.2" text-anchor="start" fill="#111" font-weight="bold" font-family="'Liberation Mono',monospace" stroke="#111" stroke-width="0.28"  >4F11</text>
<text x="44.9" y="628.30" font-size="9.75" font-family="'Liberation Mono',monospace" xml:space="preserve"><tspan fill="#1a1a1a" stroke="#1a1a1a" stroke-width="0.32">GAAACCGTT</tspan><tspan fill="#8e2146" stroke="#8e2146" stroke-width="0.32">TAACCAGCAAAGAAACCG</tspan><tspan fill="#1a1a1a" stroke="#1a1a1a" stroke-width="0.32" font-weight="bold">C</tspan><tspan fill="#1a1a1a" stroke="#1a1a1a" stroke-width="0.32">TAGAATCCATCCCT</tspan></text>
<line x1="50.75" y1="630.70" x2="97.55" y2="630.70" stroke="#3a3a3a" stroke-width="1.0"/>
<text x="6.90" y="651.10" font-size="9.2" text-anchor="start" fill="#111" font-weight="bold" font-family="'Liberation Mono',monospace" stroke="#111" stroke-width="0.28"  >1A8</text>
<text x="44.9" y="650.40" font-size="9.75" font-family="'Liberation Mono',monospace" xml:space="preserve"><tspan fill="#1a1a1a" stroke="#1a1a1a" stroke-width="0.32">GAAACCGTT</tspan><tspan fill="#8e2146" stroke="#8e2146" stroke-width="0.32">--------------------</tspan><tspan fill="#1a1a1a" stroke="#1a1a1a" stroke-width="0.32">AGAATCCATCCCT</tspan></text>
<line x1="50.75" y1="652.80" x2="97.55" y2="652.80" stroke="#3a3a3a" stroke-width="1.0"/>
<text x="6.90" y="673.00" font-size="9.2" text-anchor="start" fill="#111" font-weight="bold" font-family="'Liberation Mono',monospace" stroke="#111" stroke-width="0.28"  >5F10</text>
<text x="44.9" y="672.30" font-size="9.75" font-family="'Liberation Mono',monospace" xml:space="preserve"><tspan fill="#1a1a1a" stroke="#1a1a1a" stroke-width="0.32">GAAACCGTT</tspan><tspan fill="#4a5c96" stroke="#4a5c96" stroke-width="0.32">AAACCCGCTCCCAAC</tspan><tspan fill="#8e2146" stroke="#8e2146" stroke-width="0.32">CCGTTA</tspan><tspan fill="#4a5c96" stroke="#4a5c96" stroke-width="0.32">AAAC</tspan><tspan fill="#1a1a1a" stroke="#1a1a1a" stroke-width="0.32">CCATCCCT</tspan></text>
<line x1="50.75" y1="674.70" x2="97.55" y2="674.70" stroke="#3a3a3a" stroke-width="1.0"/>
<line x1="185.30" y1="674.70" x2="220.40" y2="674.70" stroke="#8e2146" stroke-width="1.0"/>
<text x="239.40" y="502.60" font-size="7.2" text-anchor="middle" fill="#222" font-weight="normal" font-family="'Liberation Sans',sans-serif" stroke="#222" stroke-width="0.28"  >gRNA</text>
<text x="309.20" y="490.80" font-size="8" text-anchor="start" fill="#222" font-weight="normal" font-family="'Liberation Sans',sans-serif" stroke="#222" stroke-width="0.28"  text-decoration="underline">Status</text>
<line x1="374.20" y1="669.60" x2="374.20" y2="672.80" stroke="#000" stroke-width="1.1"/>
<text x="374.20" y="683.40" font-size="8" text-anchor="middle" fill="#222" font-weight="normal" font-family="'Liberation Sans',sans-serif" stroke="#222" stroke-width="0.28"  >0.0</text>
<line x1="418.50" y1="669.60" x2="418.50" y2="672.80" stroke="#000" stroke-width="1.1"/>
<text x="418.50" y="683.40" font-size="8" text-anchor="middle" fill="#222" font-weight="normal" font-family="'Liberation Sans',sans-serif" stroke="#222" stroke-width="0.28"  >0.5</text>
<line x1="462.80" y1="669.60" x2="462.80" y2="672.80" stroke="#000" stroke-width="1.1"/>
<text x="462.80" y="683.40" font-size="8" text-anchor="middle" fill="#222" font-weight="normal" font-family="'Liberation Sans',sans-serif" stroke="#222" stroke-width="0.28"  >1.0</text>
<line x1="507.10" y1="669.60" x2="507.10" y2="672.80" stroke="#000" stroke-width="1.1"/>
<text x="507.10" y="683.40" font-size="8" text-anchor="middle" fill="#222" font-weight="normal" font-family="'Liberation Sans',sans-serif" stroke="#222" stroke-width="0.28"  >1.5</text>
<text transform="translate(441.8,696.7) scale(0.8,1)" font-size="10" text-anchor="middle" fill="#222" stroke="#222" stroke-width="0.28" font-family="'Liberation Sans',sans-serif">Fold change (AU)</text>
<rect x="375.20" y="496.60" width="86.40" height="15.00" fill="#a8052c" />
<line x1="461.60" y1="504.10" x2="475.10" y2="504.10" stroke="#262626" stroke-width="1.2"/>
<line x1="475.10" y1="501.30" x2="475.10" y2="506.90" stroke="#262626" stroke-width="1.4"/>
<line x1="370.80" y1="504.10" x2="374.20" y2="504.10" stroke="#000" stroke-width="1.1"/>
<text x="368.60" y="507.00" font-size="8" text-anchor="end" fill="#222" font-weight="normal" font-family="'Liberation Sans',sans-serif" stroke="#222" stroke-width="0.28"  >1F10</text>
<text x="309.40" y="507.00" font-size="8" text-anchor="start" fill="#a02a4c" font-weight="normal" font-family="'Liberation Sans',sans-serif" stroke="#a02a4c" stroke-width="0.15"  >unedited</text>
<rect x="375.20" y="518.80" width="89.80" height="15.00" fill="#a8052c" />
<line x1="465.00" y1="526.30" x2="484.90" y2="526.30" stroke="#262626" stroke-width="1.2"/>
<line x1="484.90" y1="523.50" x2="484.90" y2="529.10" stroke="#262626" stroke-width="1.4"/>
<line x1="370.80" y1="526.30" x2="374.20" y2="526.30" stroke="#000" stroke-width="1.1"/>
<text x="368.60" y="529.20" font-size="8" text-anchor="end" fill="#222" font-weight="normal" font-family="'Liberation Sans',sans-serif" stroke="#222" stroke-width="0.28"  >3H7</text>
<text x="309.40" y="529.20" font-size="8" text-anchor="start" fill="#a02a4c" font-weight="normal" font-family="'Liberation Sans',sans-serif" stroke="#a02a4c" stroke-width="0.15"  >unedited</text>
<rect x="375.20" y="541.00" width="85.50" height="15.00" fill="#a8052c" />
<line x1="460.70" y1="548.50" x2="475.10" y2="548.50" stroke="#262626" stroke-width="1.2"/>
<line x1="475.10" y1="545.70" x2="475.10" y2="551.30" stroke="#262626" stroke-width="1.4"/>
<line x1="370.80" y1="548.50" x2="374.20" y2="548.50" stroke="#000" stroke-width="1.1"/>
<text x="368.60" y="551.40" font-size="8" text-anchor="end" fill="#222" font-weight="normal" font-family="'Liberation Sans',sans-serif" stroke="#222" stroke-width="0.28"  >5C11</text>
<text x="309.40" y="551.40" font-size="8" text-anchor="start" fill="#a02a4c" font-weight="normal" font-family="'Liberation Sans',sans-serif" stroke="#a02a4c" stroke-width="0.15"  >unedited</text>
<rect x="375.20" y="563.20" width="20.40" height="15.00" fill="#2d4d8c" />
<line x1="395.60" y1="570.70" x2="404.90" y2="570.70" stroke="#262626" stroke-width="1.2"/>
<line x1="404.90" y1="567.90" x2="404.90" y2="573.50" stroke="#262626" stroke-width="1.4"/>
<line x1="370.80" y1="570.70" x2="374.20" y2="570.70" stroke="#000" stroke-width="1.1"/>
<text x="368.60" y="573.60" font-size="8" text-anchor="end" fill="#222" font-weight="normal" font-family="'Liberation Sans',sans-serif" stroke="#222" stroke-width="0.28"  >4H12</text>
<text x="309.40" y="573.60" font-size="8" text-anchor="start" fill="#42598a" font-weight="normal" font-family="'Liberation Sans',sans-serif" stroke="#42598a" stroke-width="0.15"  >edited</text>
<rect x="375.20" y="585.40" width="15.80" height="15.00" fill="#2d4d8c" />
<line x1="391.00" y1="592.90" x2="396.40" y2="592.90" stroke="#262626" stroke-width="1.2"/>
<line x1="396.40" y1="590.10" x2="396.40" y2="595.70" stroke="#262626" stroke-width="1.4"/>
<line x1="370.80" y1="592.90" x2="374.20" y2="592.90" stroke="#000" stroke-width="1.1"/>
<text x="368.60" y="595.80" font-size="8" text-anchor="end" fill="#222" font-weight="normal" font-family="'Liberation Sans',sans-serif" stroke="#222" stroke-width="0.28"  >6D4</text>
<text x="309.40" y="595.80" font-size="8" text-anchor="start" fill="#42598a" font-weight="normal" font-family="'Liberation Sans',sans-serif" stroke="#42598a" stroke-width="0.15"  >edited</text>
<rect x="375.20" y="607.60" width="8.40" height="15.00" fill="#2d4d8c" />
<line x1="383.60" y1="615.10" x2="385.40" y2="615.10" stroke="#262626" stroke-width="1.2"/>
<line x1="385.40" y1="612.30" x2="385.40" y2="617.90" stroke="#262626" stroke-width="1.4"/>
<line x1="370.80" y1="615.10" x2="374.20" y2="615.10" stroke="#000" stroke-width="1.1"/>
<text x="368.60" y="618.00" font-size="8" text-anchor="end" fill="#222" font-weight="normal" font-family="'Liberation Sans',sans-serif" stroke="#222" stroke-width="0.28"  >4F11</text>
<text x="309.40" y="618.00" font-size="8" text-anchor="start" fill="#42598a" font-weight="normal" font-family="'Liberation Sans',sans-serif" stroke="#42598a" stroke-width="0.15"  >edited</text>
<rect x="375.20" y="629.80" width="5.20" height="15.00" fill="#2d4d8c" />
<line x1="380.40" y1="637.30" x2="381.00" y2="637.30" stroke="#262626" stroke-width="1.2"/>
<line x1="381.00" y1="634.50" x2="381.00" y2="640.10" stroke="#262626" stroke-width="1.4"/>
<line x1="370.80" y1="637.30" x2="374.20" y2="637.30" stroke="#000" stroke-width="1.1"/>
<text x="368.60" y="640.20" font-size="8" text-anchor="end" fill="#222" font-weight="normal" font-family="'Liberation Sans',sans-serif" stroke="#222" stroke-width="0.28"  >1A8</text>
<text x="309.40" y="640.20" font-size="8" text-anchor="start" fill="#42598a" font-weight="normal" font-family="'Liberation Sans',sans-serif" stroke="#42598a" stroke-width="0.15"  >edited</text>
<rect x="375.20" y="652.00" width="82.60" height="15.00" fill="#c4c4c8" />
<line x1="457.80" y1="659.50" x2="459.50" y2="659.50" stroke="#262626" stroke-width="1.2"/>
<line x1="459.50" y1="656.70" x2="459.50" y2="662.30" stroke="#262626" stroke-width="1.4"/>
<line x1="370.80" y1="659.50" x2="374.20" y2="659.50" stroke="#000" stroke-width="1.1"/>
<text x="368.60" y="662.40" font-size="8" text-anchor="end" fill="#222" font-weight="normal" font-family="'Liberation Sans',sans-serif" stroke="#222" stroke-width="0.28"  >5F10</text>
<text x="309.40" y="662.40" font-size="8" text-anchor="start" fill="#42598a" font-weight="normal" font-family="'Liberation Sans',sans-serif" stroke="#42598a" stroke-width="0.15"  >edited</text>
<line x1="49.00" y1="49.10" x2="49.00" y2="207.80" stroke="#000" stroke-width="1.5"/>
<line x1="48.40" y1="207.20" x2="236.00" y2="207.20" stroke="#000" stroke-width="1.5"/>
<line x1="48.90" y1="276.60" x2="48.90" y2="402.10" stroke="#000" stroke-width="1.5"/>
<line x1="48.30" y1="401.50" x2="149.60" y2="401.50" stroke="#000" stroke-width="1.5"/>
<line x1="275.90" y1="269.40" x2="275.90" y2="402.10" stroke="#000" stroke-width="1.5"/>
<line x1="275.30" y1="401.50" x2="500.00" y2="401.50" stroke="#000" stroke-width="1.5"/>
<line x1="374.20" y1="493.20" x2="374.20" y2="670.20" stroke="#000" stroke-width="1.5"/>
<line x1="373.60" y1="669.60" x2="510.00" y2="669.60" stroke="#000" stroke-width="1.5"/>
<rect x="0.00" y="0.00" width="520.00" height="1.30" fill="#000" />
<rect x="0.00" y="0.00" width="1.50" height="706.00" fill="#000" />
<rect x="518.60" y="0.00" width="1.40" height="706.00" fill="#000" />
<rect x="0.00" y="704.00" width="520.00" height="2.00" fill="#000" /></svg>
</body></html>
